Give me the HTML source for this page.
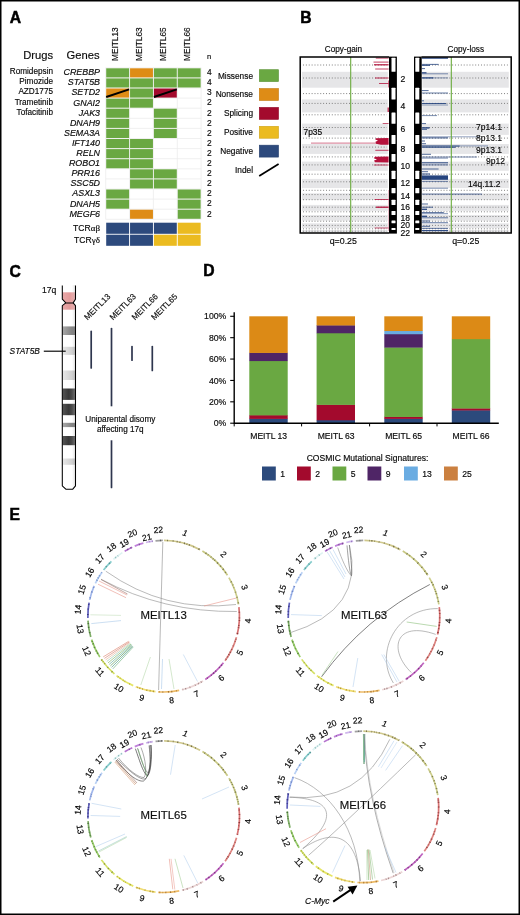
<!DOCTYPE html>
<html lang="en"><head><meta charset="utf-8"><title>Figure</title>
<style>
html,body{margin:0;padding:0;background:#fff;}
body{width:520px;height:915px;overflow:hidden;position:relative;font-family:"Liberation Sans",sans-serif;}
svg{position:absolute;left:0;top:0;display:block}
svg text{font-family:"Liberation Sans",sans-serif;stroke:#000;stroke-width:0.16px;}
</style></head><body>
<svg width="520" height="915" viewBox="0 0 520 915">
<text x="9.7" y="22.6" font-size="15.7" font-weight="bold" fill="#000" style="stroke-width:0.5px">A</text>
<text x="300.2" y="22.7" font-size="15.7" font-weight="bold" fill="#000" style="stroke-width:0.5px">B</text>
<text x="9.4" y="276.6" font-size="15.7" font-weight="bold" fill="#000" style="stroke-width:0.5px">C</text>
<text x="203.3" y="276.3" font-size="15.7" font-weight="bold" fill="#000" style="stroke-width:0.5px">D</text>
<text x="9.4" y="520.0" font-size="15.7" font-weight="bold" fill="#000" style="stroke-width:0.5px">E</text>
<text x="38.20" y="59.00" font-size="11.2" text-anchor="middle" fill="#0d0d0d" >Drugs</text>
<text x="83.00" y="59.00" font-size="11.2" text-anchor="middle" fill="#0d0d0d" >Genes</text>
<g stroke="#ececec" stroke-width="0.8">
<line x1="105.7" y1="67.80" x2="201.10" y2="67.80"/>
<line x1="105.7" y1="77.90" x2="201.10" y2="77.90"/>
<line x1="105.7" y1="88.00" x2="201.10" y2="88.00"/>
<line x1="105.7" y1="98.10" x2="201.10" y2="98.10"/>
<line x1="105.7" y1="108.20" x2="201.10" y2="108.20"/>
<line x1="105.7" y1="118.30" x2="201.10" y2="118.30"/>
<line x1="105.7" y1="128.40" x2="201.10" y2="128.40"/>
<line x1="105.7" y1="138.50" x2="201.10" y2="138.50"/>
<line x1="105.7" y1="148.60" x2="201.10" y2="148.60"/>
<line x1="105.7" y1="158.70" x2="201.10" y2="158.70"/>
<line x1="105.7" y1="168.80" x2="201.10" y2="168.80"/>
<line x1="105.7" y1="178.90" x2="201.10" y2="178.90"/>
<line x1="105.7" y1="189.00" x2="201.10" y2="189.00"/>
<line x1="105.7" y1="199.10" x2="201.10" y2="199.10"/>
<line x1="105.7" y1="209.20" x2="201.10" y2="209.20"/>
<line x1="105.7" y1="219.30" x2="201.10" y2="219.30"/>
<line x1="105.70" y1="67.8" x2="105.70" y2="219.30"/>
<line x1="129.55" y1="67.8" x2="129.55" y2="219.30"/>
<line x1="153.40" y1="67.8" x2="153.40" y2="219.30"/>
<line x1="177.25" y1="67.8" x2="177.25" y2="219.30"/>
<line x1="201.10" y1="67.8" x2="201.10" y2="219.30"/>
</g>
<rect x="106.20" y="68.30" width="22.9" height="9.1" fill="#6aa842"/>
<rect x="130.05" y="68.30" width="22.9" height="9.1" fill="#de8c16"/>
<rect x="153.90" y="68.30" width="22.9" height="9.1" fill="#6aa842"/>
<rect x="177.75" y="68.30" width="22.9" height="9.1" fill="#6aa842"/>
<text x="100.00" y="75.20" font-size="8.9" text-anchor="end" font-style="italic" fill="#0d0d0d" >CREBBP</text>
<text x="209.40" y="75.10" font-size="8.4" text-anchor="middle" fill="#0d0d0d" >4</text>
<text x="53.00" y="74.20" font-size="8.2" text-anchor="end" fill="#0d0d0d" >Romidepsin</text>
<rect x="106.20" y="78.40" width="22.9" height="9.1" fill="#6aa842"/>
<rect x="130.05" y="78.40" width="22.9" height="9.1" fill="#6aa842"/>
<rect x="153.90" y="78.40" width="22.9" height="9.1" fill="#6aa842"/>
<rect x="177.75" y="78.40" width="22.9" height="9.1" fill="#6aa842"/>
<text x="100.00" y="85.30" font-size="8.9" text-anchor="end" font-style="italic" fill="#0d0d0d" >STAT5B</text>
<text x="209.40" y="85.20" font-size="8.4" text-anchor="middle" fill="#0d0d0d" >4</text>
<text x="53.00" y="84.30" font-size="8.2" text-anchor="end" fill="#0d0d0d" >Pimozide</text>
<rect x="106.20" y="88.50" width="22.9" height="9.1" fill="#de8c16"/>
<rect x="130.05" y="88.50" width="22.9" height="9.1" fill="#6aa842"/>
<rect x="153.90" y="88.50" width="22.9" height="9.1" fill="#a30a2d"/>
<text x="100.00" y="95.40" font-size="8.9" text-anchor="end" font-style="italic" fill="#0d0d0d" >SETD2</text>
<text x="209.40" y="95.30" font-size="8.4" text-anchor="middle" fill="#0d0d0d" >3</text>
<text x="53.00" y="94.40" font-size="8.2" text-anchor="end" fill="#0d0d0d" >AZD1775</text>
<rect x="106.20" y="98.60" width="22.9" height="9.1" fill="#6aa842"/>
<rect x="130.05" y="98.60" width="22.9" height="9.1" fill="#6aa842"/>
<text x="100.00" y="105.50" font-size="8.9" text-anchor="end" font-style="italic" fill="#0d0d0d" >GNAI2</text>
<text x="209.40" y="105.40" font-size="8.4" text-anchor="middle" fill="#0d0d0d" >2</text>
<text x="53.00" y="104.50" font-size="8.2" text-anchor="end" fill="#0d0d0d" >Trametinib</text>
<rect x="106.20" y="108.70" width="22.9" height="9.1" fill="#6aa842"/>
<rect x="153.90" y="108.70" width="22.9" height="9.1" fill="#6aa842"/>
<text x="100.00" y="115.60" font-size="8.9" text-anchor="end" font-style="italic" fill="#0d0d0d" >JAK3</text>
<text x="209.40" y="115.50" font-size="8.4" text-anchor="middle" fill="#0d0d0d" >2</text>
<text x="53.00" y="114.60" font-size="8.2" text-anchor="end" fill="#0d0d0d" >Tofacitinib</text>
<rect x="106.20" y="118.80" width="22.9" height="9.1" fill="#6aa842"/>
<rect x="153.90" y="118.80" width="22.9" height="9.1" fill="#6aa842"/>
<text x="100.00" y="125.70" font-size="8.9" text-anchor="end" font-style="italic" fill="#0d0d0d" >DNAH9</text>
<text x="209.40" y="125.60" font-size="8.4" text-anchor="middle" fill="#0d0d0d" >2</text>
<rect x="106.20" y="128.90" width="22.9" height="9.1" fill="#6aa842"/>
<rect x="153.90" y="128.90" width="22.9" height="9.1" fill="#6aa842"/>
<text x="100.00" y="135.80" font-size="8.9" text-anchor="end" font-style="italic" fill="#0d0d0d" >SEMA3A</text>
<text x="209.40" y="135.70" font-size="8.4" text-anchor="middle" fill="#0d0d0d" >2</text>
<rect x="106.20" y="139.00" width="22.9" height="9.1" fill="#6aa842"/>
<rect x="130.05" y="139.00" width="22.9" height="9.1" fill="#6aa842"/>
<text x="100.00" y="145.90" font-size="8.9" text-anchor="end" font-style="italic" fill="#0d0d0d" >IFT140</text>
<text x="209.40" y="145.80" font-size="8.4" text-anchor="middle" fill="#0d0d0d" >2</text>
<rect x="106.20" y="149.10" width="22.9" height="9.1" fill="#6aa842"/>
<rect x="130.05" y="149.10" width="22.9" height="9.1" fill="#6aa842"/>
<text x="100.00" y="156.00" font-size="8.9" text-anchor="end" font-style="italic" fill="#0d0d0d" >RELN</text>
<text x="209.40" y="155.90" font-size="8.4" text-anchor="middle" fill="#0d0d0d" >2</text>
<rect x="106.20" y="159.20" width="22.9" height="9.1" fill="#6aa842"/>
<rect x="130.05" y="159.20" width="22.9" height="9.1" fill="#6aa842"/>
<text x="100.00" y="166.10" font-size="8.9" text-anchor="end" font-style="italic" fill="#0d0d0d" >ROBO1</text>
<text x="209.40" y="166.00" font-size="8.4" text-anchor="middle" fill="#0d0d0d" >2</text>
<rect x="130.05" y="169.30" width="22.9" height="9.1" fill="#6aa842"/>
<rect x="153.90" y="169.30" width="22.9" height="9.1" fill="#6aa842"/>
<text x="100.00" y="176.20" font-size="8.9" text-anchor="end" font-style="italic" fill="#0d0d0d" >PRR16</text>
<text x="209.40" y="176.10" font-size="8.4" text-anchor="middle" fill="#0d0d0d" >2</text>
<rect x="130.05" y="179.40" width="22.9" height="9.1" fill="#6aa842"/>
<rect x="153.90" y="179.40" width="22.9" height="9.1" fill="#6aa842"/>
<text x="100.00" y="186.30" font-size="8.9" text-anchor="end" font-style="italic" fill="#0d0d0d" >SSC5D</text>
<text x="209.40" y="186.20" font-size="8.4" text-anchor="middle" fill="#0d0d0d" >2</text>
<rect x="106.20" y="189.50" width="22.9" height="9.1" fill="#6aa842"/>
<rect x="177.75" y="189.50" width="22.9" height="9.1" fill="#6aa842"/>
<text x="100.00" y="196.40" font-size="8.9" text-anchor="end" font-style="italic" fill="#0d0d0d" >ASXL3</text>
<text x="209.40" y="196.30" font-size="8.4" text-anchor="middle" fill="#0d0d0d" >2</text>
<rect x="106.20" y="199.60" width="22.9" height="9.1" fill="#6aa842"/>
<rect x="177.75" y="199.60" width="22.9" height="9.1" fill="#6aa842"/>
<text x="100.00" y="206.50" font-size="8.9" text-anchor="end" font-style="italic" fill="#0d0d0d" >DNAH5</text>
<text x="209.40" y="206.40" font-size="8.4" text-anchor="middle" fill="#0d0d0d" >2</text>
<rect x="130.05" y="209.70" width="22.9" height="9.1" fill="#de8c16"/>
<rect x="177.75" y="209.70" width="22.9" height="9.1" fill="#6aa842"/>
<text x="100.00" y="216.60" font-size="8.9" text-anchor="end" font-style="italic" fill="#0d0d0d" >MEGF6</text>
<text x="209.40" y="216.50" font-size="8.4" text-anchor="middle" fill="#0d0d0d" >2</text>
<line x1="106.20" y1="97.00" x2="129.10" y2="89.30" stroke="#000" stroke-width="1.9"/>
<line x1="153.90" y1="97.00" x2="176.80" y2="89.30" stroke="#000" stroke-width="1.9"/>
<text x="118.25" y="61.00" font-size="8.3" text-anchor="start" transform="rotate(-90 118.25 61.00)" fill="#0d0d0d" >MEITL13</text>
<text x="142.10" y="61.00" font-size="8.3" text-anchor="start" transform="rotate(-90 142.10 61.00)" fill="#0d0d0d" >MEITL63</text>
<text x="165.95" y="61.00" font-size="8.3" text-anchor="start" transform="rotate(-90 165.95 61.00)" fill="#0d0d0d" >MEITL65</text>
<text x="189.80" y="61.00" font-size="8.3" text-anchor="start" transform="rotate(-90 189.80 61.00)" fill="#0d0d0d" >MEITL66</text>
<text x="209.20" y="58.50" font-size="7.5" text-anchor="middle" fill="#0d0d0d" >n</text>
<rect x="106.20" y="222.70" width="22.9" height="11.1" fill="#2d4a7d"/>
<rect x="130.05" y="222.70" width="22.9" height="11.1" fill="#2d4a7d"/>
<rect x="153.90" y="222.70" width="22.9" height="11.1" fill="#2d4a7d"/>
<rect x="177.75" y="222.70" width="22.9" height="11.1" fill="#ebbb20"/>
<rect x="106.20" y="234.70" width="22.9" height="11.1" fill="#2d4a7d"/>
<rect x="130.05" y="234.70" width="22.9" height="11.1" fill="#2d4a7d"/>
<rect x="153.90" y="234.70" width="22.9" height="11.1" fill="#ebbb20"/>
<rect x="177.75" y="234.70" width="22.9" height="11.1" fill="#ebbb20"/>
<text x="100.00" y="230.80" font-size="8.6" text-anchor="end" fill="#0d0d0d" >TCR<tspan style="font-family:'Liberation Serif',serif" font-size="9">αβ</tspan></text>
<text x="100.00" y="242.50" font-size="8.6" text-anchor="end" fill="#0d0d0d" >TCR<tspan style="font-family:'Liberation Serif',serif" font-size="9">γδ</tspan></text>
<rect x="259.3" y="69.70" width="19.2" height="11.9" fill="#6aa842" stroke="#6aa842" stroke-width="0.6"/><rect x="259.3" y="69.70" width="19.2" height="11.9" fill="none" stroke="#000" stroke-opacity="0.12" stroke-width="0.6"/>
<text x="253.00" y="78.60" font-size="8.3" text-anchor="end" fill="#0d0d0d" >Missense</text>
<rect x="259.3" y="88.57" width="19.2" height="11.9" fill="#de8c16" stroke="#de8c16" stroke-width="0.6"/><rect x="259.3" y="88.57" width="19.2" height="11.9" fill="none" stroke="#000" stroke-opacity="0.12" stroke-width="0.6"/>
<text x="253.00" y="97.47" font-size="8.3" text-anchor="end" fill="#0d0d0d" >Nonsense</text>
<rect x="259.3" y="107.44" width="19.2" height="11.9" fill="#a30a2d" stroke="#a30a2d" stroke-width="0.6"/><rect x="259.3" y="107.44" width="19.2" height="11.9" fill="none" stroke="#000" stroke-opacity="0.12" stroke-width="0.6"/>
<text x="253.00" y="116.34" font-size="8.3" text-anchor="end" fill="#0d0d0d" >Splicing</text>
<rect x="259.3" y="126.31" width="19.2" height="11.9" fill="#ebbb20" stroke="#ebbb20" stroke-width="0.6"/><rect x="259.3" y="126.31" width="19.2" height="11.9" fill="none" stroke="#000" stroke-opacity="0.12" stroke-width="0.6"/>
<text x="253.00" y="135.21" font-size="8.3" text-anchor="end" fill="#0d0d0d" >Positive</text>
<rect x="259.3" y="145.18" width="19.2" height="11.9" fill="#2d4a7d" stroke="#2d4a7d" stroke-width="0.6"/><rect x="259.3" y="145.18" width="19.2" height="11.9" fill="none" stroke="#000" stroke-opacity="0.12" stroke-width="0.6"/>
<text x="253.00" y="154.08" font-size="8.3" text-anchor="end" fill="#0d0d0d" >Negative</text>
<text x="253.00" y="173.00" font-size="8.3" text-anchor="end" fill="#0d0d0d" >Indel</text>
<line x1="259.2" y1="176" x2="278.6" y2="164" stroke="#000" stroke-width="1.7"/>
<rect x="302" y="71.80" width="85.80" height="15.90" fill="#e6e6e8"/>
<rect x="302" y="99.40" width="85.80" height="13.00" fill="#e6e6e8"/>
<rect x="302" y="123.60" width="85.80" height="11.30" fill="#e6e6e8"/>
<rect x="302" y="144.00" width="85.80" height="9.90" fill="#e6e6e8"/>
<rect x="302" y="161.60" width="85.80" height="9.20" fill="#e6e6e8"/>
<rect x="302" y="178.90" width="85.80" height="9.20" fill="#e6e6e8"/>
<rect x="302" y="193.30" width="85.80" height="6.50" fill="#e6e6e8"/>
<rect x="302" y="204.90" width="85.80" height="6.00" fill="#e6e6e8"/>
<rect x="302" y="215.00" width="85.80" height="5.60" fill="#e6e6e8"/>
<rect x="302" y="223.30" width="85.80" height="4.70" fill="#e6e6e8"/>
<rect x="302" y="229.90" width="85.80" height="2.70" fill="#e6e6e8"/>
<line x1="303" y1="65.00" x2="386.8" y2="65.00" stroke="#7a7a7a" stroke-width="1" stroke-dasharray="0.95 1.93"/>
<line x1="303" y1="78.00" x2="386.8" y2="78.00" stroke="#7a7a7a" stroke-width="1" stroke-dasharray="0.95 1.93"/>
<line x1="303" y1="93.60" x2="386.8" y2="93.60" stroke="#7a7a7a" stroke-width="1" stroke-dasharray="0.95 1.93"/>
<line x1="303" y1="103.40" x2="386.8" y2="103.40" stroke="#7a7a7a" stroke-width="1" stroke-dasharray="0.95 1.93"/>
<line x1="303" y1="114.80" x2="386.8" y2="114.80" stroke="#7a7a7a" stroke-width="1" stroke-dasharray="0.95 1.93"/>
<line x1="303" y1="127.50" x2="386.8" y2="127.50" stroke="#7a7a7a" stroke-width="1" stroke-dasharray="0.95 1.93"/>
<line x1="303" y1="138.10" x2="386.8" y2="138.10" stroke="#7a7a7a" stroke-width="1" stroke-dasharray="0.95 1.93"/>
<line x1="303" y1="147.10" x2="386.8" y2="147.10" stroke="#7a7a7a" stroke-width="1" stroke-dasharray="0.95 1.93"/>
<line x1="303" y1="156.90" x2="386.8" y2="156.90" stroke="#7a7a7a" stroke-width="1" stroke-dasharray="0.95 1.93"/>
<line x1="303" y1="164.90" x2="386.8" y2="164.90" stroke="#7a7a7a" stroke-width="1" stroke-dasharray="0.95 1.93"/>
<line x1="303" y1="174.20" x2="386.8" y2="174.20" stroke="#7a7a7a" stroke-width="1" stroke-dasharray="0.95 1.93"/>
<line x1="303" y1="181.80" x2="386.8" y2="181.80" stroke="#7a7a7a" stroke-width="1" stroke-dasharray="0.95 1.93"/>
<line x1="303" y1="190.30" x2="386.8" y2="190.30" stroke="#7a7a7a" stroke-width="1" stroke-dasharray="0.95 1.93"/>
<line x1="303" y1="194.60" x2="386.8" y2="194.60" stroke="#7a7a7a" stroke-width="1" stroke-dasharray="0.95 1.93"/>
<line x1="303" y1="199.70" x2="386.8" y2="199.70" stroke="#7a7a7a" stroke-width="1" stroke-dasharray="0.95 1.93"/>
<line x1="303" y1="207.20" x2="386.8" y2="207.20" stroke="#7a7a7a" stroke-width="1" stroke-dasharray="0.95 1.93"/>
<line x1="303" y1="211.80" x2="386.8" y2="211.80" stroke="#7a7a7a" stroke-width="1" stroke-dasharray="0.95 1.93"/>
<line x1="303" y1="216.50" x2="386.8" y2="216.50" stroke="#7a7a7a" stroke-width="1" stroke-dasharray="0.95 1.93"/>
<line x1="303" y1="221.20" x2="386.8" y2="221.20" stroke="#7a7a7a" stroke-width="1" stroke-dasharray="0.95 1.93"/>
<line x1="303" y1="225.40" x2="386.8" y2="225.40" stroke="#7a7a7a" stroke-width="1" stroke-dasharray="0.95 1.93"/>
<line x1="303" y1="228.80" x2="386.8" y2="228.80" stroke="#7a7a7a" stroke-width="1" stroke-dasharray="0.95 1.93"/>
<line x1="303" y1="231.20" x2="386.8" y2="231.20" stroke="#7a7a7a" stroke-width="1" stroke-dasharray="0.95 1.93"/>
<rect x="422.4" y="71.80" width="86.40" height="15.90" fill="#e6e6e8"/>
<rect x="422.4" y="99.40" width="86.40" height="13.00" fill="#e6e6e8"/>
<rect x="422.4" y="123.60" width="86.40" height="11.30" fill="#e6e6e8"/>
<rect x="422.4" y="144.00" width="86.40" height="9.90" fill="#e6e6e8"/>
<rect x="422.4" y="161.60" width="86.40" height="9.20" fill="#e6e6e8"/>
<rect x="422.4" y="178.90" width="86.40" height="9.20" fill="#e6e6e8"/>
<rect x="422.4" y="193.30" width="86.40" height="6.50" fill="#e6e6e8"/>
<rect x="422.4" y="204.90" width="86.40" height="6.00" fill="#e6e6e8"/>
<rect x="422.4" y="215.00" width="86.40" height="5.60" fill="#e6e6e8"/>
<rect x="422.4" y="223.30" width="86.40" height="4.70" fill="#e6e6e8"/>
<rect x="422.4" y="229.90" width="86.40" height="2.70" fill="#e6e6e8"/>
<line x1="423.4" y1="65.00" x2="507.8" y2="65.00" stroke="#7a7a7a" stroke-width="1" stroke-dasharray="0.95 1.93"/>
<line x1="423.4" y1="78.00" x2="507.8" y2="78.00" stroke="#7a7a7a" stroke-width="1" stroke-dasharray="0.95 1.93"/>
<line x1="423.4" y1="93.60" x2="507.8" y2="93.60" stroke="#7a7a7a" stroke-width="1" stroke-dasharray="0.95 1.93"/>
<line x1="423.4" y1="103.40" x2="507.8" y2="103.40" stroke="#7a7a7a" stroke-width="1" stroke-dasharray="0.95 1.93"/>
<line x1="423.4" y1="114.80" x2="507.8" y2="114.80" stroke="#7a7a7a" stroke-width="1" stroke-dasharray="0.95 1.93"/>
<line x1="423.4" y1="127.50" x2="507.8" y2="127.50" stroke="#7a7a7a" stroke-width="1" stroke-dasharray="0.95 1.93"/>
<line x1="423.4" y1="138.10" x2="507.8" y2="138.10" stroke="#7a7a7a" stroke-width="1" stroke-dasharray="0.95 1.93"/>
<line x1="423.4" y1="147.10" x2="507.8" y2="147.10" stroke="#7a7a7a" stroke-width="1" stroke-dasharray="0.95 1.93"/>
<line x1="423.4" y1="156.90" x2="507.8" y2="156.90" stroke="#7a7a7a" stroke-width="1" stroke-dasharray="0.95 1.93"/>
<line x1="423.4" y1="164.90" x2="507.8" y2="164.90" stroke="#7a7a7a" stroke-width="1" stroke-dasharray="0.95 1.93"/>
<line x1="423.4" y1="174.20" x2="507.8" y2="174.20" stroke="#7a7a7a" stroke-width="1" stroke-dasharray="0.95 1.93"/>
<line x1="423.4" y1="181.80" x2="507.8" y2="181.80" stroke="#7a7a7a" stroke-width="1" stroke-dasharray="0.95 1.93"/>
<line x1="423.4" y1="190.30" x2="507.8" y2="190.30" stroke="#7a7a7a" stroke-width="1" stroke-dasharray="0.95 1.93"/>
<line x1="423.4" y1="194.60" x2="507.8" y2="194.60" stroke="#7a7a7a" stroke-width="1" stroke-dasharray="0.95 1.93"/>
<line x1="423.4" y1="199.70" x2="507.8" y2="199.70" stroke="#7a7a7a" stroke-width="1" stroke-dasharray="0.95 1.93"/>
<line x1="423.4" y1="207.20" x2="507.8" y2="207.20" stroke="#7a7a7a" stroke-width="1" stroke-dasharray="0.95 1.93"/>
<line x1="423.4" y1="211.80" x2="507.8" y2="211.80" stroke="#7a7a7a" stroke-width="1" stroke-dasharray="0.95 1.93"/>
<line x1="423.4" y1="216.50" x2="507.8" y2="216.50" stroke="#7a7a7a" stroke-width="1" stroke-dasharray="0.95 1.93"/>
<line x1="423.4" y1="221.20" x2="507.8" y2="221.20" stroke="#7a7a7a" stroke-width="1" stroke-dasharray="0.95 1.93"/>
<line x1="423.4" y1="225.40" x2="507.8" y2="225.40" stroke="#7a7a7a" stroke-width="1" stroke-dasharray="0.95 1.93"/>
<line x1="423.4" y1="228.80" x2="507.8" y2="228.80" stroke="#7a7a7a" stroke-width="1" stroke-dasharray="0.95 1.93"/>
<line x1="423.4" y1="231.20" x2="507.8" y2="231.20" stroke="#7a7a7a" stroke-width="1" stroke-dasharray="0.95 1.93"/>
<line x1="375.8" y1="58.1" x2="388.6" y2="58.1" stroke="#b5123c" stroke-width="0.8"/>
<line x1="373.5" y1="62.1" x2="388.6" y2="62.1" stroke="#b5123c" stroke-width="0.8"/>
<line x1="374" y1="64.8" x2="388.6" y2="64.8" stroke="#b5123c" stroke-width="1.2"/>
<line x1="375.2" y1="69" x2="388.6" y2="69" stroke="#b5123c" stroke-width="0.8"/>
<line x1="375" y1="78" x2="388.6" y2="78" stroke="#b5123c" stroke-width="0.9"/>
<line x1="379" y1="83.5" x2="388.6" y2="83.5" stroke="#b5123c" stroke-width="0.8"/>
<line x1="382.7" y1="123.5" x2="388.6" y2="123.5" stroke="#b5123c" stroke-width="0.7"/>
<line x1="375.3" y1="150.3" x2="388.6" y2="150.3" stroke="#b5123c" stroke-width="0.8"/>
<line x1="373.8" y1="165" x2="388.6" y2="165" stroke="#b5123c" stroke-width="0.8"/>
<line x1="374.6" y1="199.5" x2="388.6" y2="199.5" stroke="#b5123c" stroke-width="0.8"/>
<line x1="376" y1="207.2" x2="388.6" y2="207.2" stroke="#b5123c" stroke-width="1.3"/>
<line x1="374.6" y1="228" x2="388.6" y2="228" stroke="#b5123c" stroke-width="0.7"/>
<line x1="311" y1="143.1" x2="388.6" y2="143.1" stroke="#b5123c" stroke-width="0.7" opacity="0.85"/>
<path d="M388.6 138 L376 138.3 L375.2 139.5 L378 140.6 L375.5 141.8 L376 143.8 L381 144.8 L388.6 144.8 Z" fill="#b5123c"/>
<path d="M388.6 156.4 L375 156.8 L373.8 158.3 L377 159.4 L374 160.6 L375 162.3 L388.6 162.5 Z" fill="#b5123c"/>
<line x1="388.5" y1="80.5" x2="388.5" y2="87.5" stroke="#b5123c" stroke-width="0.6"/>
<line x1="388.2" y1="107.5" x2="388.2" y2="112" stroke="#b5123c" stroke-width="1.2"/>
<line x1="388.5" y1="190" x2="388.5" y2="231" stroke="#b5123c" stroke-width="0.5" opacity="0.55"/>
<line x1="421.8" y1="58" x2="448" y2="58" stroke="#27457f" stroke-width="1.5"/>
<line x1="421.8" y1="64.4" x2="438.6" y2="64.4" stroke="#27457f" stroke-width="0.8"/>
<line x1="421.8" y1="65.5" x2="430" y2="65.5" stroke="#27457f" stroke-width="0.8"/>
<line x1="421.8" y1="68.6" x2="425" y2="68.6" stroke="#27457f" stroke-width="0.8"/>
<line x1="421.8" y1="72.8" x2="426.5" y2="72.8" stroke="#27457f" stroke-width="1.2"/>
<line x1="421.8" y1="73.8" x2="448" y2="73.8" stroke="#27457f" stroke-width="0.6"/>
<line x1="421.8" y1="77.9" x2="433.3" y2="77.9" stroke="#27457f" stroke-width="1.1"/>
<line x1="421.8" y1="77.9" x2="448" y2="77.9" stroke="#27457f" stroke-width="0.5"/>
<line x1="421.8" y1="90.6" x2="428.6" y2="90.6" stroke="#27457f" stroke-width="0.8"/>
<line x1="421.8" y1="93" x2="448" y2="93" stroke="#27457f" stroke-width="0.7"/>
<line x1="421.8" y1="100.8" x2="424" y2="100.8" stroke="#27457f" stroke-width="0.8"/>
<line x1="421.8" y1="103.5" x2="446" y2="103.5" stroke="#27457f" stroke-width="0.9"/>
<line x1="421.8" y1="105" x2="448" y2="105" stroke="#27457f" stroke-width="0.5"/>
<line x1="421.8" y1="115.6" x2="437" y2="115.6" stroke="#27457f" stroke-width="0.6"/>
<line x1="421.8" y1="123.6" x2="426" y2="123.6" stroke="#27457f" stroke-width="0.8"/>
<line x1="421.8" y1="127.9" x2="429.5" y2="127.9" stroke="#27457f" stroke-width="1.4"/>
<line x1="421.8" y1="129.4" x2="427" y2="129.4" stroke="#27457f" stroke-width="0.8"/>
<line x1="421.8" y1="136.8" x2="480" y2="136.8" stroke="#27457f" stroke-width="0.5"/>
<line x1="421.8" y1="137.9" x2="448" y2="137.9" stroke="#27457f" stroke-width="0.9"/>
<line x1="421.8" y1="141" x2="425" y2="141" stroke="#27457f" stroke-width="0.8"/>
<line x1="421.8" y1="143.7" x2="426" y2="143.7" stroke="#27457f" stroke-width="0.8"/>
<line x1="421.8" y1="145.9" x2="488" y2="145.9" stroke="#27457f" stroke-width="0.5"/>
<line x1="421.8" y1="146.1" x2="459.7" y2="146.1" stroke="#27457f" stroke-width="0.9"/>
<line x1="421.8" y1="147.4" x2="455.5" y2="147.4" stroke="#27457f" stroke-width="0.8"/>
<line x1="421.8" y1="154.3" x2="431" y2="154.3" stroke="#27457f" stroke-width="0.8"/>
<line x1="421.8" y1="157" x2="477" y2="157" stroke="#27457f" stroke-width="0.6"/>
<line x1="421.8" y1="158.1" x2="448" y2="158.1" stroke="#27457f" stroke-width="0.6"/>
<line x1="421.8" y1="162.8" x2="448" y2="162.8" stroke="#27457f" stroke-width="1.0"/>
<line x1="421.8" y1="164.9" x2="448" y2="164.9" stroke="#27457f" stroke-width="0.7"/>
<line x1="421.8" y1="169" x2="438.6" y2="169" stroke="#27457f" stroke-width="0.8"/>
<line x1="421.8" y1="171.7" x2="428" y2="171.7" stroke="#27457f" stroke-width="0.8"/>
<line x1="421.8" y1="174" x2="430" y2="174" stroke="#27457f" stroke-width="1.0"/>
<line x1="421.8" y1="181.4" x2="448" y2="181.4" stroke="#27457f" stroke-width="0.6"/>
<line x1="421.8" y1="188.2" x2="448" y2="188.2" stroke="#27457f" stroke-width="0.6"/>
<line x1="421.8" y1="194.1" x2="482" y2="194.1" stroke="#27457f" stroke-width="0.7"/>
<line x1="421.8" y1="204" x2="428" y2="204" stroke="#27457f" stroke-width="0.8"/>
<line x1="421.8" y1="207.2" x2="433" y2="207.2" stroke="#27457f" stroke-width="0.8"/>
<line x1="421.8" y1="209.3" x2="427" y2="209.3" stroke="#27457f" stroke-width="1.3"/>
<line x1="421.8" y1="212.5" x2="443.8" y2="212.5" stroke="#27457f" stroke-width="0.7"/>
<line x1="421.8" y1="213.7" x2="448" y2="213.7" stroke="#27457f" stroke-width="0.6"/>
<line x1="421.8" y1="216.3" x2="427" y2="216.3" stroke="#27457f" stroke-width="1.3"/>
<line x1="421.8" y1="217.8" x2="448" y2="217.8" stroke="#27457f" stroke-width="0.7"/>
<line x1="421.8" y1="221" x2="430" y2="221" stroke="#27457f" stroke-width="0.8"/>
<line x1="421.8" y1="222.7" x2="448" y2="222.7" stroke="#27457f" stroke-width="0.7"/>
<line x1="421.8" y1="226.3" x2="430" y2="226.3" stroke="#27457f" stroke-width="0.8"/>
<line x1="421.8" y1="228.4" x2="448" y2="228.4" stroke="#27457f" stroke-width="0.7"/>
<line x1="421.8" y1="230.6" x2="448" y2="230.6" stroke="#27457f" stroke-width="1.1"/>
<rect x="421.8" y="175.4" width="26.20" height="4.4" fill="#27457f"/>
<line x1="350.7" y1="57" x2="350.7" y2="232.5" stroke="#6aaa3c" stroke-width="1.1"/>
<line x1="451.3" y1="57" x2="451.3" y2="232.5" stroke="#6aaa3c" stroke-width="1.1"/>
<rect x="389.0" y="56.6" width="7.90" height="177.0" fill="#000"/>
<rect x="391.50" y="57.70" width="4.00" height="14.15" rx="0.5" fill="#fff"/>
<rect x="391.50" y="87.70" width="4.00" height="11.75" rx="0.5" fill="#fff"/>
<rect x="391.50" y="112.40" width="4.00" height="11.25" rx="0.5" fill="#fff"/>
<rect x="391.50" y="134.90" width="4.00" height="9.15" rx="0.5" fill="#fff"/>
<rect x="391.50" y="153.90" width="4.00" height="7.75" rx="0.5" fill="#fff"/>
<rect x="391.50" y="170.80" width="4.00" height="8.15" rx="0.5" fill="#fff"/>
<rect x="391.50" y="188.10" width="4.00" height="5.25" rx="0.5" fill="#fff"/>
<rect x="391.50" y="199.80" width="4.00" height="5.15" rx="0.5" fill="#fff"/>
<rect x="391.50" y="210.90" width="4.00" height="4.15" rx="0.5" fill="#fff"/>
<rect x="391.50" y="220.60" width="4.00" height="2.75" rx="0.5" fill="#fff"/>
<rect x="391.50" y="228.00" width="4.00" height="1.95" rx="0.5" fill="#fff"/>
<rect x="414.0" y="56.6" width="7.70" height="177.0" fill="#000"/>
<rect x="415.30" y="57.70" width="4.00" height="14.15" rx="0.5" fill="#fff"/>
<rect x="415.30" y="87.70" width="4.00" height="11.75" rx="0.5" fill="#fff"/>
<rect x="415.30" y="112.40" width="4.00" height="11.25" rx="0.5" fill="#fff"/>
<rect x="415.30" y="134.90" width="4.00" height="9.15" rx="0.5" fill="#fff"/>
<rect x="415.30" y="153.90" width="4.00" height="7.75" rx="0.5" fill="#fff"/>
<rect x="415.30" y="170.80" width="4.00" height="8.15" rx="0.5" fill="#fff"/>
<rect x="415.30" y="188.10" width="4.00" height="5.25" rx="0.5" fill="#fff"/>
<rect x="415.30" y="199.80" width="4.00" height="5.15" rx="0.5" fill="#fff"/>
<rect x="415.30" y="210.90" width="4.00" height="4.15" rx="0.5" fill="#fff"/>
<rect x="415.30" y="220.60" width="4.00" height="2.75" rx="0.5" fill="#fff"/>
<rect x="415.30" y="228.00" width="4.00" height="1.95" rx="0.5" fill="#fff"/>
<path d="M389 56.9 H300.2 V232.9 H389" fill="none" stroke="#000" stroke-width="1.5"/>
<path d="M421.5 56.9 H511.2 V232.9 H421.5" fill="none" stroke="#000" stroke-width="1.5"/>
<text x="400.50" y="82.35" font-size="8.6" text-anchor="start" fill="#0d0d0d" >2</text>
<text x="400.50" y="108.85" font-size="8.6" text-anchor="start" fill="#0d0d0d" >4</text>
<text x="400.50" y="131.75" font-size="8.6" text-anchor="start" fill="#0d0d0d" >6</text>
<text x="400.50" y="151.85" font-size="8.6" text-anchor="start" fill="#0d0d0d" >8</text>
<text x="400.50" y="169.05" font-size="8.6" text-anchor="start" fill="#0d0d0d" >10</text>
<text x="400.50" y="186.35" font-size="8.6" text-anchor="start" fill="#0d0d0d" >12</text>
<text x="400.50" y="199.35" font-size="8.6" text-anchor="start" fill="#0d0d0d" >14</text>
<text x="400.50" y="210.35" font-size="8.6" text-anchor="start" fill="#0d0d0d" >16</text>
<text x="400.50" y="220.55" font-size="8.6" text-anchor="start" fill="#0d0d0d" >18</text>
<text x="400.50" y="228.45" font-size="8.6" text-anchor="start" fill="#0d0d0d" >20</text>
<text x="400.50" y="236.15" font-size="8.6" text-anchor="start" fill="#0d0d0d" >22</text>
<text x="343.50" y="52.00" font-size="8.2" text-anchor="middle" fill="#0d0d0d" >Copy-gain</text>
<text x="465.80" y="52.00" font-size="8.2" text-anchor="middle" fill="#0d0d0d" >Copy-loss</text>
<text x="343.30" y="244.10" font-size="8.8" text-anchor="middle" fill="#0d0d0d" >q=0.25</text>
<text x="465.80" y="244.10" font-size="8.8" text-anchor="middle" fill="#0d0d0d" >q=0.25</text>
<text x="303.50" y="134.50" font-size="8.4" text-anchor="start" fill="#0d0d0d" >7p35</text>
<text x="502.00" y="129.70" font-size="8.5" text-anchor="end" fill="#0d0d0d" >7p14.1</text>
<text x="502.00" y="141.40" font-size="8.5" text-anchor="end" fill="#0d0d0d" >8p13.1</text>
<text x="502.00" y="152.60" font-size="8.5" text-anchor="end" fill="#0d0d0d" >9p13.1</text>
<text x="505.00" y="164.00" font-size="8.5" text-anchor="end" fill="#0d0d0d" >9p12</text>
<text x="500.50" y="187.00" font-size="8.5" text-anchor="end" fill="#0d0d0d" >14q.11.2</text>
<defs>
<linearGradient id="sheen" x1="0" x2="1" y1="0" y2="0"><stop offset="0" stop-color="#999" stop-opacity="0"/><stop offset="1" stop-color="#999" stop-opacity="0.28"/></linearGradient>
<linearGradient id="bd" x1="0" x2="1" y1="0" y2="0"><stop offset="0" stop-color="#585858"/><stop offset="0.45" stop-color="#383838"/><stop offset="1" stop-color="#6a6a6a"/></linearGradient>
<linearGradient id="bm" x1="0" x2="1" y1="0" y2="0"><stop offset="0" stop-color="#ababab"/><stop offset="0.5" stop-color="#8c8c8c"/><stop offset="1" stop-color="#767676"/></linearGradient>
<linearGradient id="bl" x1="0" x2="1" y1="0" y2="0"><stop offset="0" stop-color="#e9e9e9"/><stop offset="0.5" stop-color="#d6d6d6"/><stop offset="1" stop-color="#c6c6c6"/></linearGradient>
<linearGradient id="pk" x1="0" x2="1" y1="0" y2="0"><stop offset="0" stop-color="#e8a8a8"/><stop offset="0.5" stop-color="#e39a9a"/><stop offset="1" stop-color="#efbcbc"/></linearGradient>
<clipPath id="chrc"><path d="M62.3 285 V299.2 L65.8 302.9 L62.3 305.6 V485.8 L65.8 489.2 H72.8 L75.5 485.8 V305.6 L73.1 302.9 L75.5 299.2 V285 Z"/></clipPath>
</defs>
<g clip-path="url(#chrc)">
<rect x="62" y="285" width="15" height="206" fill="#fff"/>
<rect x="62" y="292.3" width="15" height="17.4" fill="url(#pk)"/>
<rect x="62" y="326.4" width="15" height="8.60" fill="url(#bm)"/>
<rect x="62" y="346.8" width="15" height="8.10" fill="url(#bl)"/>
<rect x="62" y="370.5" width="15" height="9.50" fill="url(#bl)"/>
<rect x="62" y="388.5" width="15" height="11.40" fill="url(#bd)"/>
<rect x="62" y="403.8" width="15" height="11.40" fill="url(#bd)"/>
<rect x="62" y="422.8" width="15" height="4.30" fill="url(#bm)"/>
<rect x="62" y="436" width="15" height="9.20" fill="url(#bd)"/>
<rect x="62" y="458.5" width="15" height="6.30" fill="url(#bl)"/>
</g>
<rect x="72" y="285" width="3.5" height="205" fill="url(#sheen)" clip-path="url(#chrc)"/>
<path d="M62.3 285.4 V299.2 L65.8 302.9 H73.1 L75.5 299.2 V285.4" fill="none" stroke="#000" stroke-width="1.05" stroke-linejoin="round"/>
<path d="M65.8 302.9 L62.3 305.6 V485.8 L65.8 489.2 H72.8 L75.5 485.8 V305.6 L73.1 302.9" fill="none" stroke="#000" stroke-width="1.05" stroke-linejoin="round"/>
<text x="41.90" y="292.80" font-size="8.6" text-anchor="start" fill="#111" >17q</text>
<text x="9.60" y="353.80" font-size="8.35" text-anchor="start" font-style="italic" fill="#0d0d0d" >STAT5B</text>
<line x1="43.8" y1="351.2" x2="65.7" y2="351.2" stroke="#000" stroke-width="1.15"/>
<line x1="91.2" y1="331.4" x2="91.2" y2="367.9" stroke="#2e364e" stroke-width="1.7" stroke-linecap="round"/>
<line x1="111.5" y1="328.6" x2="111.5" y2="487.4" stroke="#2e364e" stroke-width="1.7" stroke-linecap="round"/>
<line x1="132" y1="346.6" x2="132" y2="360.2" stroke="#2e364e" stroke-width="1.7" stroke-linecap="round"/>
<line x1="152.3" y1="346.6" x2="152.3" y2="370.5" stroke="#2e364e" stroke-width="1.7" stroke-linecap="round"/>
<rect x="84" y="406.3" width="74" height="34" fill="#fff"/>
<text x="120.30" y="422.00" font-size="8.2" text-anchor="middle" fill="#0d0d0d" >Uniparental disomy</text>
<text x="120.30" y="432.30" font-size="8.2" text-anchor="middle" fill="#0d0d0d" >affecting 17q</text>
<text x="87.50" y="320.50" font-size="8.2" text-anchor="start" transform="rotate(-45 87.50 320.50)" fill="#0d0d0d" >MEITL13</text>
<text x="113.00" y="320.50" font-size="8.2" text-anchor="start" transform="rotate(-45 113.00 320.50)" fill="#0d0d0d" >MEITL63</text>
<text x="135.00" y="320.50" font-size="8.2" text-anchor="start" transform="rotate(-45 135.00 320.50)" fill="#0d0d0d" >MEITL66</text>
<text x="154.50" y="320.50" font-size="8.2" text-anchor="start" transform="rotate(-45 154.50 320.50)" fill="#0d0d0d" >MEITL65</text>
<rect x="249.3" y="418.60" width="38.4" height="4.90" fill="#2c4a7c"/>
<rect x="249.3" y="415.08" width="38.4" height="3.83" fill="#a30a2d"/>
<rect x="249.3" y="360.77" width="38.4" height="54.61" fill="#6aa842"/>
<rect x="249.3" y="352.65" width="38.4" height="8.42" fill="#4f2566"/>
<rect x="249.3" y="316.30" width="38.4" height="36.65" fill="#dc8a16"/>
<rect x="316.6" y="419.99" width="38.4" height="3.51" fill="#2c4a7c"/>
<rect x="316.6" y="404.60" width="38.4" height="15.69" fill="#a30a2d"/>
<rect x="316.6" y="332.98" width="38.4" height="71.92" fill="#6aa842"/>
<rect x="316.6" y="325.17" width="38.4" height="8.10" fill="#4f2566"/>
<rect x="316.6" y="316.30" width="38.4" height="9.17" fill="#dc8a16"/>
<rect x="384.3" y="418.60" width="38.4" height="4.90" fill="#2c4a7c"/>
<rect x="384.3" y="416.68" width="38.4" height="2.22" fill="#a30a2d"/>
<rect x="384.3" y="347.30" width="38.4" height="69.68" fill="#6aa842"/>
<rect x="384.3" y="333.94" width="38.4" height="13.66" fill="#4f2566"/>
<rect x="384.3" y="330.73" width="38.4" height="3.51" fill="#6aace2"/>
<rect x="384.3" y="316.30" width="38.4" height="14.73" fill="#dc8a16"/>
<rect x="451.8" y="410.16" width="38.4" height="13.34" fill="#2c4a7c"/>
<rect x="451.8" y="408.23" width="38.4" height="2.22" fill="#a30a2d"/>
<rect x="451.8" y="338.86" width="38.4" height="69.68" fill="#6aa842"/>
<rect x="451.8" y="316.30" width="38.4" height="22.86" fill="#dc8a16"/>
<path d="M234.2 312.2 V423.2 H498.8" fill="none" stroke="#000" stroke-width="1.4"/>
<line x1="230.2" y1="423.20" x2="234.2" y2="423.20" stroke="#000" stroke-width="1.1"/>
<text x="226.30" y="426.30" font-size="8.7" text-anchor="end" fill="#0d0d0d" >0%</text>
<line x1="230.2" y1="401.82" x2="234.2" y2="401.82" stroke="#000" stroke-width="1.1"/>
<text x="226.30" y="404.92" font-size="8.7" text-anchor="end" fill="#0d0d0d" >20%</text>
<line x1="230.2" y1="380.44" x2="234.2" y2="380.44" stroke="#000" stroke-width="1.1"/>
<text x="226.30" y="383.54" font-size="8.7" text-anchor="end" fill="#0d0d0d" >40%</text>
<line x1="230.2" y1="359.06" x2="234.2" y2="359.06" stroke="#000" stroke-width="1.1"/>
<text x="226.30" y="362.16" font-size="8.7" text-anchor="end" fill="#0d0d0d" >60%</text>
<line x1="230.2" y1="337.68" x2="234.2" y2="337.68" stroke="#000" stroke-width="1.1"/>
<text x="226.30" y="340.78" font-size="8.7" text-anchor="end" fill="#0d0d0d" >80%</text>
<line x1="230.2" y1="316.30" x2="234.2" y2="316.30" stroke="#000" stroke-width="1.1"/>
<text x="226.30" y="319.40" font-size="8.7" text-anchor="end" fill="#0d0d0d" >100%</text>
<line x1="234.2" y1="423.2" x2="234.2" y2="426.4" stroke="#000" stroke-width="1"/>
<line x1="301.6" y1="423.2" x2="301.6" y2="426.4" stroke="#000" stroke-width="1"/>
<line x1="369.6" y1="423.2" x2="369.6" y2="426.4" stroke="#000" stroke-width="1"/>
<line x1="437" y1="423.2" x2="437" y2="426.4" stroke="#000" stroke-width="1"/>
<text x="268.70" y="438.80" font-size="8.6" text-anchor="middle" fill="#0d0d0d" >MEITL 13</text>
<text x="336.15" y="438.80" font-size="8.6" text-anchor="middle" fill="#0d0d0d" >MEITL 63</text>
<text x="403.60" y="438.80" font-size="8.6" text-anchor="middle" fill="#0d0d0d" >MEITL 65</text>
<text x="471.05" y="438.80" font-size="8.6" text-anchor="middle" fill="#0d0d0d" >MEITL 66</text>
<text x="367.50" y="461.20" font-size="8.55" text-anchor="middle" fill="#0d0d0d" >COSMIC Mutational Signatures:</text>
<rect x="262" y="466.5" width="13.8" height="14" fill="#2c4a7c"/>
<text x="280.30" y="476.80" font-size="8.6" text-anchor="start" fill="#0d0d0d" >1</text>
<rect x="297" y="466.5" width="13.8" height="14" fill="#a30a2d"/>
<text x="315.30" y="476.80" font-size="8.6" text-anchor="start" fill="#0d0d0d" >2</text>
<rect x="332.5" y="466.5" width="13.8" height="14" fill="#6aa842"/>
<text x="350.80" y="476.80" font-size="8.6" text-anchor="start" fill="#0d0d0d" >5</text>
<rect x="367.5" y="466.5" width="13.8" height="14" fill="#4f2566"/>
<text x="385.80" y="476.80" font-size="8.6" text-anchor="start" fill="#0d0d0d" >9</text>
<rect x="404" y="466.5" width="13.8" height="14" fill="#6aace2"/>
<text x="422.30" y="476.80" font-size="8.6" text-anchor="start" fill="#0d0d0d" >13</text>
<rect x="444" y="466.5" width="13.8" height="14" fill="#cb8040"/>
<text x="462.30" y="476.80" font-size="8.6" text-anchor="start" fill="#0d0d0d" >25</text>
<g fill="none">
<path d="M162.8 542.0 L158.6 690.0" stroke="#8a8a8a" stroke-width="0.6" opacity="1.0"/>
<path d="M105.8 571.2 Q165 613 236 604.5" stroke="#8c8c8c" stroke-width="0.6"/>
<path d="M101 579.2 Q163 612.5 236.8 611.5" stroke="#8c8c8c" stroke-width="0.6"/>
<path d="M99.0 581.0 L127.0 595.0" stroke="#e8958a" stroke-width="0.6" opacity="1.0"/>
<path d="M98.0 584.2 L126.0 597.7" stroke="#e8958a" stroke-width="0.6" opacity="1.0"/>
<path d="M101.0 579.5 L127.5 594.0" stroke="#8a5a50" stroke-width="0.5" opacity="1.0"/>
<path d="M90.4 614.8 L121.0 615.4" stroke="#a8d09a" stroke-width="0.5" opacity="0.8"/>
<path d="M91.3 623.6 L121.0 620.6" stroke="#a9c9ea" stroke-width="0.6" opacity="1.0"/>
<path d="M236.5 598.0 L204.0 606.0" stroke="#e8958a" stroke-width="0.6" opacity="1.0"/>
<path d="M140.8 685.0 L150.4 657.0" stroke="#a8d09a" stroke-width="0.5" opacity="1.0"/>
<path d="M161.5 689.0 L162.5 659.0" stroke="#a9c9ea" stroke-width="0.6" opacity="1.0"/>
<path d="M174.0 689.0 L169.0 659.0" stroke="#a8d09a" stroke-width="0.5" opacity="1.0"/>
<path d="M197.5 681.5 L183.3 654.5" stroke="#a9c9ea" stroke-width="0.5" opacity="1.0"/>
<path d="M103.2 656.9 L128.7 641.3" stroke="#e08f7c" stroke-width="0.7" opacity="1"/>
<path d="M104.4 658.4 L129.3 642.0" stroke="#d98a78" stroke-width="0.7" opacity="1"/>
<path d="M105.6 659.9 L129.8 642.7" stroke="#e8b8a0" stroke-width="0.7" opacity="1"/>
<path d="M106.8 661.4 L130.4 643.4" stroke="#9cd0b8" stroke-width="0.7" opacity="1"/>
<path d="M108.0 662.9 L131.0 644.1" stroke="#8ab86a" stroke-width="0.7" opacity="1"/>
<path d="M109.2 664.4 L131.6 644.8" stroke="#6ab0a0" stroke-width="0.7" opacity="1"/>
<path d="M110.4 665.9 L132.1 645.5" stroke="#5a9a5a" stroke-width="0.7" opacity="1"/>
<path d="M111.6 667.4 L132.7 646.2" stroke="#5aa090" stroke-width="0.7" opacity="1"/>
<path d="M112.8 668.9 L133.3 646.9" stroke="#7ab88a" stroke-width="0.7" opacity="1"/>
<path d="M164.05 540.40 A75.8 75.8 0 0 1 200.06 549.71" stroke="#cfc88c" stroke-width="1.7"/>
<path d="M167.04 540.48 A75.8 75.8 0 0 1 167.95 540.52 M172.68 540.94 A75.8 75.8 0 0 1 173.50 541.04 M176.67 541.53 A75.8 75.8 0 0 1 177.59 541.69 M179.55 542.09 A75.8 75.8 0 0 1 180.40 542.27 M183.95 543.17 A75.8 75.8 0 0 1 185.00 543.47 M186.60 543.96 A75.8 75.8 0 0 1 187.27 544.17 M188.84 544.71 A75.8 75.8 0 0 1 189.88 545.08 M193.49 546.52 A75.8 75.8 0 0 1 193.95 546.72 M198.43 548.85 A75.8 75.8 0 0 1 199.51 549.42" stroke="#3a3418" stroke-width="1.7" opacity="0.6"/>
<path d="M202.41 551.06 A75.8 75.8 0 0 1 227.47 575.31" stroke="#c8c884" stroke-width="1.7"/>
<path d="M205.58 553.05 A75.8 75.8 0 0 1 206.37 553.59 M207.93 554.68 A75.8 75.8 0 0 1 208.32 554.96 M210.92 556.95 A75.8 75.8 0 0 1 211.32 557.27 M212.88 558.56 A75.8 75.8 0 0 1 213.38 558.99 M214.45 559.94 A75.8 75.8 0 0 1 215.06 560.50 M217.20 562.55 A75.8 75.8 0 0 1 217.99 563.35 M220.20 565.73 A75.8 75.8 0 0 1 220.85 566.46 M222.88 568.90 A75.8 75.8 0 0 1 223.49 569.67 M225.29 572.09 A75.8 75.8 0 0 1 225.69 572.65" stroke="#3a3a18" stroke-width="1.7" opacity="0.6"/>
<path d="M228.90 577.62 A75.8 75.8 0 0 1 238.53 604.44" stroke="#cccd8a" stroke-width="1.7"/>
<path d="M231.04 581.50 A75.8 75.8 0 0 1 231.50 582.41 M232.58 584.66 A75.8 75.8 0 0 1 232.84 585.25 M233.79 587.45 A75.8 75.8 0 0 1 233.98 587.93 M235.43 591.83 A75.8 75.8 0 0 1 235.67 592.57 M236.94 596.85 A75.8 75.8 0 0 1 237.13 597.59 M238.17 602.35 A75.8 75.8 0 0 1 238.37 603.47" stroke="#4a4a20" stroke-width="1.7" opacity="0.6"/>
<path d="M238.90 607.12 A75.8 75.8 0 0 1 237.19 634.58" stroke="#d87272" stroke-width="1.7"/>
<path d="M239.32 611.80 A75.8 75.8 0 0 1 239.37 612.63 M239.44 617.59 A75.8 75.8 0 0 1 239.42 618.37 M239.36 619.96 A75.8 75.8 0 0 1 239.30 620.92 M238.92 625.11 A75.8 75.8 0 0 1 238.84 625.78 M238.62 627.41 A75.8 75.8 0 0 1 238.51 628.13 M237.58 632.93 A75.8 75.8 0 0 1 237.34 633.97" stroke="#5a1414" stroke-width="1.7" opacity="0.6"/>
<path d="M236.48 637.19 A75.8 75.8 0 0 1 225.06 660.64" stroke="#de8480" stroke-width="1.7"/>
<path d="M235.98 638.88 A75.8 75.8 0 0 1 235.78 639.51 M235.24 641.12 A75.8 75.8 0 0 1 235.07 641.60 M233.52 645.58 A75.8 75.8 0 0 1 233.29 646.14 M231.88 649.23 A75.8 75.8 0 0 1 231.52 649.96 M230.59 651.77 A75.8 75.8 0 0 1 230.09 652.68 M229.20 654.26 A75.8 75.8 0 0 1 228.71 655.10 M227.79 656.59 A75.8 75.8 0 0 1 227.36 657.27 M226.19 659.02 A75.8 75.8 0 0 1 225.81 659.58" stroke="#5e1818" stroke-width="1.7" opacity="0.6"/>
<path d="M223.43 662.81 A75.8 75.8 0 0 1 205.31 679.52" stroke="#c064c0" stroke-width="1.7"/>
<path d="M221.89 664.71 A75.8 75.8 0 0 1 221.14 665.60 M219.75 667.18 A75.8 75.8 0 0 1 219.22 667.75 M216.07 670.95 A75.8 75.8 0 0 1 215.37 671.62 M214.12 672.76 A75.8 75.8 0 0 1 213.18 673.58 M211.56 674.94 A75.8 75.8 0 0 1 211.04 675.36 M207.70 677.88 A75.8 75.8 0 0 1 207.11 678.30" stroke="#4a1450" stroke-width="1.7" opacity="0.6"/>
<path d="M203.02 680.97 A75.8 75.8 0 0 1 181.85 689.78" stroke="#ecd6d6" stroke-width="1.7"/>
<path d="M201.60 681.82 A75.8 75.8 0 0 1 200.79 682.28 M198.84 683.34 A75.8 75.8 0 0 1 198.00 683.77 M195.58 684.95 A75.8 75.8 0 0 1 194.83 685.29 M190.32 687.15 A75.8 75.8 0 0 1 189.53 687.45 M186.26 688.55 A75.8 75.8 0 0 1 185.16 688.89 M183.23 689.43 A75.8 75.8 0 0 1 182.66 689.58" stroke="#7a5a5a" stroke-width="1.7" opacity="0.6"/>
<path d="M179.20 690.39 A75.8 75.8 0 0 1 158.18 691.80" stroke="#eebc68" stroke-width="1.7"/>
<path d="M177.00 690.82 A75.8 75.8 0 0 1 176.39 690.92 M172.37 691.50 A75.8 75.8 0 0 1 171.17 691.63 M169.13 691.80 A75.8 75.8 0 0 1 167.91 691.88 M163.32 692.00 A75.8 75.8 0 0 1 162.38 691.99 M159.50 691.89 A75.8 75.8 0 0 1 158.95 691.85" stroke="#7a4a10" stroke-width="1.7" opacity="0.6"/>
<path d="M155.48 691.56 A75.8 75.8 0 0 1 135.72 686.67" stroke="#f0dc70" stroke-width="1.7"/>
<path d="M154.02 691.39 A75.8 75.8 0 0 1 152.80 691.22 M150.63 690.87 A75.8 75.8 0 0 1 149.62 690.69 M147.39 690.24 A75.8 75.8 0 0 1 146.30 689.99 M142.88 689.10 A75.8 75.8 0 0 1 142.21 688.91 M140.33 688.32 A75.8 75.8 0 0 1 139.35 688.00 M137.86 687.48 A75.8 75.8 0 0 1 137.25 687.26" stroke="#8a6e10" stroke-width="1.7" opacity="0.6"/>
<path d="M133.21 685.62 A75.8 75.8 0 0 1 116.52 675.56" stroke="#e6e666" stroke-width="1.7"/>
<path d="M129.95 684.10 A75.8 75.8 0 0 1 129.34 683.79 M125.20 681.52 A75.8 75.8 0 0 1 124.66 681.21 M123.48 680.48 A75.8 75.8 0 0 1 122.91 680.12 M120.43 678.47 A75.8 75.8 0 0 1 120.02 678.18 M118.42 677.02 A75.8 75.8 0 0 1 117.81 676.57" stroke="#7a7a14" stroke-width="1.7" opacity="0.6"/>
<path d="M114.42 673.84 A75.8 75.8 0 0 1 101.35 659.38" stroke="#d4e064" stroke-width="1.7"/>
<path d="M112.43 672.07 A75.8 75.8 0 0 1 111.57 671.28 M108.08 667.76 A75.8 75.8 0 0 1 107.42 667.03 M104.89 664.08 A75.8 75.8 0 0 1 104.31 663.36 M103.18 661.90 A75.8 75.8 0 0 1 102.88 661.51 M102.06 660.39 A75.8 75.8 0 0 1 101.38 659.42" stroke="#5a6a14" stroke-width="1.7" opacity="0.6"/>
<path d="M99.84 657.12 A75.8 75.8 0 0 1 91.56 639.63" stroke="#98cc6a" stroke-width="1.7"/>
<path d="M97.81 653.77 A75.8 75.8 0 0 1 97.22 652.70 M96.55 651.46 A75.8 75.8 0 0 1 96.11 650.60 M94.75 647.80 A75.8 75.8 0 0 1 94.32 646.85 M93.35 644.55 A75.8 75.8 0 0 1 92.89 643.38 M92.33 641.88 A75.8 75.8 0 0 1 92.03 641.03" stroke="#2e5a18" stroke-width="1.7" opacity="0.6"/>
<path d="M90.77 637.04 A75.8 75.8 0 0 1 87.98 620.66" stroke="#7cac64" stroke-width="1.7"/>
<path d="M89.76 633.11 A75.8 75.8 0 0 1 89.54 632.12 M88.76 627.93 A75.8 75.8 0 0 1 88.59 626.75 M88.27 624.14 A75.8 75.8 0 0 1 88.17 623.14" stroke="#24481a" stroke-width="1.7" opacity="0.6"/>
<path d="M87.87 617.95 A75.8 75.8 0 0 1 89.09 602.53" stroke="#6060bc" stroke-width="1.7"/>
<path d="M87.86 615.08 A75.8 75.8 0 0 1 87.88 613.99 M88.15 609.47 A75.8 75.8 0 0 1 88.24 608.56 M88.69 604.95 A75.8 75.8 0 0 1 88.81 604.19" stroke="#18185a" stroke-width="1.7" opacity="0.6"/>
<path d="M89.63 599.87 A75.8 75.8 0 0 1 94.19 585.85" stroke="#a2b8ec" stroke-width="1.7"/>
<path d="M90.00 598.29 A75.8 75.8 0 0 1 90.23 597.35 M91.63 592.55 A75.8 75.8 0 0 1 92.01 591.45 M93.42 587.68 A75.8 75.8 0 0 1 93.71 586.97" stroke="#3e56a0" stroke-width="1.7" opacity="0.6"/>
<path d="M95.32 583.38 A75.8 75.8 0 0 1 101.95 572.17" stroke="#b8d0f4" stroke-width="1.7"/>
<path d="M96.65 580.74 A75.8 75.8 0 0 1 97.19 579.75 M97.99 578.33 A75.8 75.8 0 0 1 98.53 577.41 M99.27 576.19 A75.8 75.8 0 0 1 99.77 575.39 M101.50 572.81 A75.8 75.8 0 0 1 101.87 572.28" stroke="#4a6cb0" stroke-width="1.7" opacity="0.6"/>
<path d="M103.56 570.00 A75.8 75.8 0 0 1 111.40 561.29" stroke="#86cccc" stroke-width="1.7"/>
<path d="M106.02 566.96 A75.8 75.8 0 0 1 106.58 566.31 M109.02 563.66 A75.8 75.8 0 0 1 109.85 562.80" stroke="#2a6a6a" stroke-width="1.7" opacity="0.6"/>
<path d="M113.40 559.45 A75.8 75.8 0 0 1 122.38 552.62" stroke="#def2f2" stroke-width="1.7"/>
<path d="M115.25 557.87 A75.8 75.8 0 0 1 116.02 557.23 M117.65 555.95 A75.8 75.8 0 0 1 118.13 555.59" stroke="#5a9a9a" stroke-width="1.7" opacity="0.6"/>
<path d="M124.68 551.19 A75.8 75.8 0 0 1 132.24 547.21" stroke="#b472ce" stroke-width="1.7"/>
<path d="M127.25 549.71 A75.8 75.8 0 0 1 128.28 549.16 M130.54 548.01 A75.8 75.8 0 0 1 131.43 547.59" stroke="#4a1e66" stroke-width="1.7" opacity="0.6"/>
<path d="M134.73 546.14 A75.8 75.8 0 0 1 143.35 543.17" stroke="#c082da" stroke-width="1.7"/>
<path d="M138.75 544.61 A75.8 75.8 0 0 1 139.88 544.22" stroke="#54286e" stroke-width="1.7" opacity="0.6"/>
<path d="M145.97 542.49 A75.8 75.8 0 0 1 152.80 541.18" stroke="#d0b8ec" stroke-width="1.7"/>
<path d="M149.38 541.76 A75.8 75.8 0 0 1 150.08 541.62 M151.88 541.32 A75.8 75.8 0 0 1 152.73 541.19" stroke="#6e4ea0" stroke-width="1.7" opacity="0.6"/>
<path d="M155.49 540.84 A75.8 75.8 0 0 1 162.86 540.40" stroke="#a0a0a0" stroke-width="1.7"/>
<path d="M159.90 540.49 A75.8 75.8 0 0 1 161.03 540.45" stroke="#333" stroke-width="1.7" opacity="0.6"/>
</g>
<text x="185.19" y="532.94" font-size="8.6" text-anchor="middle" dominant-baseline="central" transform="rotate(14.5 185.19 532.94)" fill="#000" font-style="italic">1</text>
<text x="223.45" y="554.39" font-size="8.6" text-anchor="middle" dominant-baseline="central" transform="rotate(44.1 223.45 554.39)" fill="#000">2</text>
<text x="244.58" y="587.12" font-size="8.6" text-anchor="middle" dominant-baseline="central" transform="rotate(70.2 244.58 587.12)" fill="#000">3</text>
<text x="247.92" y="620.88" font-size="8.6" text-anchor="middle" dominant-baseline="central" transform="rotate(-86.8 247.92 620.88)" fill="#000">4</text>
<text x="239.77" y="652.65" font-size="8.6" text-anchor="middle" dominant-baseline="central" transform="rotate(-64.4 239.77 652.65)" fill="#000">5</text>
<text x="221.32" y="677.82" font-size="8.6" text-anchor="middle" dominant-baseline="central" transform="rotate(-43.1 221.32 677.82)" fill="#000">6</text>
<text x="196.62" y="693.90" font-size="8.6" text-anchor="middle" dominant-baseline="central" transform="rotate(-23.0 196.62 693.90)" fill="#000">7</text>
<text x="171.52" y="700.23" font-size="8.6" text-anchor="middle" dominant-baseline="central" transform="rotate(-5.3 171.52 700.23)" fill="#000">8</text>
<text x="141.94" y="697.76" font-size="8.6" text-anchor="middle" dominant-baseline="central" transform="rotate(14.9 141.94 697.76)" fill="#000">9</text>
<text x="118.85" y="687.73" font-size="8.6" text-anchor="middle" dominant-baseline="central" transform="rotate(32.1 118.85 687.73)" fill="#000">10</text>
<text x="100.06" y="671.70" font-size="8.6" text-anchor="middle" dominant-baseline="central" transform="rotate(48.9 100.06 671.70)" fill="#000">11</text>
<text x="86.75" y="650.99" font-size="8.6" text-anchor="middle" dominant-baseline="central" transform="rotate(65.7 86.75 650.99)" fill="#000">12</text>
<text x="80.21" y="628.91" font-size="8.6" text-anchor="middle" dominant-baseline="central" transform="rotate(81.3 80.21 628.91)" fill="#000">13</text>
<text x="77.92" y="609.40" font-size="8.6" text-anchor="middle" dominant-baseline="central" transform="rotate(-85.5 77.92 609.40)" fill="#000">14</text>
<text x="81.87" y="589.59" font-size="8.6" text-anchor="middle" dominant-baseline="central" transform="rotate(-72.0 81.87 589.59)" fill="#000">15</text>
<text x="89.61" y="572.45" font-size="8.6" text-anchor="middle" dominant-baseline="central" transform="rotate(-59.4 89.61 572.45)" fill="#000">16</text>
<text x="99.73" y="558.67" font-size="8.6" text-anchor="middle" dominant-baseline="central" transform="rotate(-48.0 99.73 558.67)" fill="#000">17</text>
<text x="111.35" y="547.30" font-size="8.6" text-anchor="middle" dominant-baseline="central" transform="rotate(-37.2 111.35 547.30)" fill="#000">18</text>
<text x="124.17" y="543.19" font-size="8.6" text-anchor="middle" dominant-baseline="central" transform="rotate(-28.4 124.17 543.19)" fill="#000">19</text>
<text x="132.48" y="533.27" font-size="8.6" text-anchor="middle" dominant-baseline="central" transform="rotate(-20.6 132.48 533.27)" fill="#000">20</text>
<text x="146.89" y="537.36" font-size="8.6" text-anchor="middle" dominant-baseline="central" transform="rotate(-12.0 146.89 537.36)" fill="#000">21</text>
<text x="158.22" y="529.87" font-size="8.6" text-anchor="middle" dominant-baseline="central" transform="rotate(-3.6 158.22 529.87)" fill="#000">22</text>
<text x="163.65" y="618.60" font-size="11.4" text-anchor="middle" fill="#111" >MEITL13</text>
<g fill="none">
<path d="M429.8 584.5 Q364.7 617.6 321.6 676.8" stroke="#4a4a4a" stroke-width="0.7" opacity="1.0"/>
<path d="M437.8 608.6 C397 608 374 652 393.4 683" stroke="#8c8c8c" stroke-width="0.6"/>
<path d="M435.7 634.4 C395 620 388 650 411.3 672.5" stroke="#8c8c8c" stroke-width="0.6"/>
<path d="M436.7 626.4 L406.7 622.0" stroke="#8cc07a" stroke-width="0.6" opacity="1.0"/>
<path d="M397.0 682.0 L381.7 654.5" stroke="#a9c9ea" stroke-width="0.5" opacity="1.0"/>
<path d="M399.2 681.3 L383.8 654.5" stroke="#a9c9ea" stroke-width="0.5" opacity="1.0"/>
<path d="M353.0 687.0 L357.8 658.0" stroke="#a9c9ea" stroke-width="0.5" opacity="1.0"/>
<path d="M321.8 675.5 L338.0 651.5" stroke="#a8d09a" stroke-width="0.6" opacity="1.0"/>
<path d="M349.4 545 Q365 610 289.5 633" stroke="#8c8c8c" stroke-width="0.6"/>
<path d="M347 545.4 C348.3 560 349.8 573 351.4 575.8 C352.6 573 350.8 560 349.4 545" stroke="#555" stroke-width="0.55"/>
<path d="M337.7 547.5 C342 560 347 571 351 575.5" stroke="#8c8c8c" stroke-width="0.6"/>
<path d="M327.0 551.7 L344.0 579.0" stroke="#a9c9ea" stroke-width="0.5" opacity="1.0"/>
<path d="M329.5 550.5 L345.0 577.0" stroke="#a9c9ea" stroke-width="0.5" opacity="1.0"/>
<path d="M333.0 549.5 L346.0 574.0" stroke="#a9c9ea" stroke-width="0.5" opacity="1.0"/>
<path d="M291.0 614.6 L321.8 615.6" stroke="#a9c9ea" stroke-width="0.5" opacity="1.0"/>
<path d="M364.40 540.40 A75.8 75.8 0 0 1 400.41 549.71" stroke="#cfc88c" stroke-width="1.7"/>
<path d="M369.27 540.58 A75.8 75.8 0 0 1 369.84 540.63 M371.24 540.75 A75.8 75.8 0 0 1 372.49 540.88 M374.48 541.13 A75.8 75.8 0 0 1 375.03 541.21 M378.72 541.84 A75.8 75.8 0 0 1 379.44 541.99 M383.93 543.07 A75.8 75.8 0 0 1 384.55 543.24 M389.20 544.71 A75.8 75.8 0 0 1 389.88 544.95 M393.18 546.24 A75.8 75.8 0 0 1 394.29 546.71 M397.79 548.35 A75.8 75.8 0 0 1 398.85 548.89" stroke="#3a3418" stroke-width="1.7" opacity="0.6"/>
<path d="M402.76 551.06 A75.8 75.8 0 0 1 427.82 575.31" stroke="#c8c884" stroke-width="1.7"/>
<path d="M406.63 553.52 A75.8 75.8 0 0 1 407.40 554.05 M409.40 555.50 A75.8 75.8 0 0 1 409.89 555.87 M413.37 558.68 A75.8 75.8 0 0 1 414.07 559.29 M417.57 562.57 A75.8 75.8 0 0 1 418.32 563.34 M421.61 566.94 A75.8 75.8 0 0 1 422.20 567.64 M424.63 570.71 A75.8 75.8 0 0 1 425.19 571.47 M426.51 573.33 A75.8 75.8 0 0 1 427.19 574.34" stroke="#3a3a18" stroke-width="1.7" opacity="0.6"/>
<path d="M429.25 577.62 A75.8 75.8 0 0 1 438.88 604.44" stroke="#cccd8a" stroke-width="1.7"/>
<path d="M431.58 581.88 A75.8 75.8 0 0 1 432.02 582.75 M432.82 584.42 A75.8 75.8 0 0 1 433.28 585.44 M434.73 588.95 A75.8 75.8 0 0 1 434.95 589.52 M435.46 590.93 A75.8 75.8 0 0 1 435.75 591.77 M436.21 593.14 A75.8 75.8 0 0 1 436.56 594.28 M437.42 597.36 A75.8 75.8 0 0 1 437.63 598.21 M438.26 600.98 A75.8 75.8 0 0 1 438.45 601.95" stroke="#4a4a20" stroke-width="1.7" opacity="0.6"/>
<path d="M439.25 607.12 A75.8 75.8 0 0 1 437.54 634.58" stroke="#d87272" stroke-width="1.7"/>
<path d="M439.53 609.82 A75.8 75.8 0 0 1 439.60 610.74 M439.74 613.16 A75.8 75.8 0 0 1 439.77 614.10 M439.79 617.43 A75.8 75.8 0 0 1 439.77 618.24 M439.57 622.05 A75.8 75.8 0 0 1 439.50 622.93 M439.34 624.57 A75.8 75.8 0 0 1 439.19 625.81 M438.81 628.43 A75.8 75.8 0 0 1 438.67 629.22 M438.14 631.99 A75.8 75.8 0 0 1 437.88 633.16" stroke="#5a1414" stroke-width="1.7" opacity="0.6"/>
<path d="M436.83 637.19 A75.8 75.8 0 0 1 425.41 660.64" stroke="#de8480" stroke-width="1.7"/>
<path d="M436.01 639.88 A75.8 75.8 0 0 1 435.84 640.39 M434.22 644.74 A75.8 75.8 0 0 1 433.99 645.29 M432.64 648.35 A75.8 75.8 0 0 1 432.32 649.02 M431.19 651.29 A75.8 75.8 0 0 1 430.84 651.95 M429.86 653.73 A75.8 75.8 0 0 1 429.61 654.16 M427.89 656.98 A75.8 75.8 0 0 1 427.30 657.90" stroke="#5e1818" stroke-width="1.7" opacity="0.6"/>
<path d="M423.78 662.81 A75.8 75.8 0 0 1 405.66 679.52" stroke="#c064c0" stroke-width="1.7"/>
<path d="M421.31 665.81 A75.8 75.8 0 0 1 420.98 666.19 M419.06 668.29 A75.8 75.8 0 0 1 418.29 669.10 M414.88 672.39 A75.8 75.8 0 0 1 414.26 672.94 M410.84 675.80 A75.8 75.8 0 0 1 410.16 676.32 M407.53 678.26 A75.8 75.8 0 0 1 406.77 678.78" stroke="#4a1450" stroke-width="1.7" opacity="0.6"/>
<path d="M403.37 680.97 A75.8 75.8 0 0 1 382.20 689.78" stroke="#ecd6d6" stroke-width="1.7"/>
<path d="M400.71 682.52 A75.8 75.8 0 0 1 399.80 683.01 M396.49 684.68 A75.8 75.8 0 0 1 395.82 685.00 M391.93 686.67 A75.8 75.8 0 0 1 390.89 687.07 M387.52 688.26 A75.8 75.8 0 0 1 386.37 688.63 M385.03 689.02 A75.8 75.8 0 0 1 384.21 689.26" stroke="#7a5a5a" stroke-width="1.7" opacity="0.6"/>
<path d="M379.55 690.39 A75.8 75.8 0 0 1 358.53 691.80" stroke="#eebc68" stroke-width="1.7"/>
<path d="M377.63 690.76 A75.8 75.8 0 0 1 376.63 690.94 M373.73 691.37 A75.8 75.8 0 0 1 373.06 691.46 M371.59 691.62 A75.8 75.8 0 0 1 370.37 691.73 M367.75 691.91 A75.8 75.8 0 0 1 367.19 691.93 M365.07 691.99 A75.8 75.8 0 0 1 364.40 692.00 M359.87 691.89 A75.8 75.8 0 0 1 359.27 691.85" stroke="#7a4a10" stroke-width="1.7" opacity="0.6"/>
<path d="M355.83 691.56 A75.8 75.8 0 0 1 336.07 686.67" stroke="#f0dc70" stroke-width="1.7"/>
<path d="M353.50 691.27 A75.8 75.8 0 0 1 352.96 691.19 M349.94 690.68 A75.8 75.8 0 0 1 349.32 690.57 M346.79 690.02 A75.8 75.8 0 0 1 345.77 689.77 M341.20 688.49 A75.8 75.8 0 0 1 340.13 688.14 M338.74 687.67 A75.8 75.8 0 0 1 338.02 687.41" stroke="#8a6e10" stroke-width="1.7" opacity="0.6"/>
<path d="M333.56 685.62 A75.8 75.8 0 0 1 316.87 675.56" stroke="#e6e666" stroke-width="1.7"/>
<path d="M331.67 684.76 A75.8 75.8 0 0 1 330.91 684.39 M328.46 683.15 A75.8 75.8 0 0 1 327.53 682.65 M324.09 680.64 A75.8 75.8 0 0 1 323.39 680.20 M321.51 678.97 A75.8 75.8 0 0 1 320.98 678.61 M319.10 677.27 A75.8 75.8 0 0 1 318.68 676.96" stroke="#7a7a14" stroke-width="1.7" opacity="0.6"/>
<path d="M314.77 673.84 A75.8 75.8 0 0 1 301.70 659.38" stroke="#d4e064" stroke-width="1.7"/>
<path d="M311.35 670.73 A75.8 75.8 0 0 1 310.66 670.05 M309.58 668.96 A75.8 75.8 0 0 1 308.98 668.34 M306.60 665.70 A75.8 75.8 0 0 1 306.27 665.33 M304.30 662.90 A75.8 75.8 0 0 1 304.00 662.52" stroke="#5a6a14" stroke-width="1.7" opacity="0.6"/>
<path d="M300.19 657.12 A75.8 75.8 0 0 1 291.91 639.63" stroke="#98cc6a" stroke-width="1.7"/>
<path d="M298.29 653.99 A75.8 75.8 0 0 1 297.68 652.91 M295.64 648.94 A75.8 75.8 0 0 1 295.36 648.36 M294.02 645.34 A75.8 75.8 0 0 1 293.81 644.81 M292.87 642.39 A75.8 75.8 0 0 1 292.48 641.31" stroke="#2e5a18" stroke-width="1.7" opacity="0.6"/>
<path d="M291.12 637.04 A75.8 75.8 0 0 1 288.33 620.66" stroke="#7cac64" stroke-width="1.7"/>
<path d="M290.42 634.40 A75.8 75.8 0 0 1 290.19 633.46 M289.77 631.53 A75.8 75.8 0 0 1 289.55 630.45 M288.82 625.88 A75.8 75.8 0 0 1 288.71 624.98 M288.45 622.33 A75.8 75.8 0 0 1 288.37 621.20" stroke="#24481a" stroke-width="1.7" opacity="0.6"/>
<path d="M288.22 617.95 A75.8 75.8 0 0 1 289.44 602.53" stroke="#6060bc" stroke-width="1.7"/>
<path d="M288.21 614.72 A75.8 75.8 0 0 1 288.23 614.11 M288.33 611.76 A75.8 75.8 0 0 1 288.37 611.17 M288.79 606.76 A75.8 75.8 0 0 1 288.90 605.90" stroke="#18185a" stroke-width="1.7" opacity="0.6"/>
<path d="M289.98 599.87 A75.8 75.8 0 0 1 294.54 585.85" stroke="#a2b8ec" stroke-width="1.7"/>
<path d="M291.20 595.09 A75.8 75.8 0 0 1 291.37 594.50 M292.23 591.81 A75.8 75.8 0 0 1 292.61 590.72 M294.11 586.86 A75.8 75.8 0 0 1 294.41 586.15" stroke="#3e56a0" stroke-width="1.7" opacity="0.6"/>
<path d="M295.67 583.38 A75.8 75.8 0 0 1 302.30 572.17" stroke="#b8d0f4" stroke-width="1.7"/>
<path d="M297.38 580.04 A75.8 75.8 0 0 1 297.68 579.50 M298.63 577.83 A75.8 75.8 0 0 1 298.89 577.40 M300.33 575.08 A75.8 75.8 0 0 1 300.68 574.53" stroke="#4a6cb0" stroke-width="1.7" opacity="0.6"/>
<path d="M303.91 570.00 A75.8 75.8 0 0 1 311.75 561.29" stroke="#86cccc" stroke-width="1.7"/>
<path d="M305.08 568.51 A75.8 75.8 0 0 1 305.65 567.81 M308.65 564.42 A75.8 75.8 0 0 1 309.29 563.74" stroke="#2a6a6a" stroke-width="1.7" opacity="0.6"/>
<path d="M313.75 559.45 A75.8 75.8 0 0 1 322.73 552.62" stroke="#def2f2" stroke-width="1.7"/>
<path d="M314.81 558.53 A75.8 75.8 0 0 1 315.74 557.75 M318.78 555.37 A75.8 75.8 0 0 1 319.67 554.71" stroke="#5a9a9a" stroke-width="1.7" opacity="0.6"/>
<path d="M325.03 551.19 A75.8 75.8 0 0 1 332.59 547.21" stroke="#b472ce" stroke-width="1.7"/>
<path d="M326.38 550.39 A75.8 75.8 0 0 1 326.91 550.09 M329.73 548.59 A75.8 75.8 0 0 1 330.81 548.05" stroke="#4a1e66" stroke-width="1.7" opacity="0.6"/>
<path d="M335.08 546.14 A75.8 75.8 0 0 1 343.70 543.17" stroke="#c082da" stroke-width="1.7"/>
<path d="M338.46 544.83 A75.8 75.8 0 0 1 339.45 544.48 M341.88 543.70 A75.8 75.8 0 0 1 343.07 543.35" stroke="#54286e" stroke-width="1.7" opacity="0.6"/>
<path d="M346.32 542.49 A75.8 75.8 0 0 1 353.15 541.18" stroke="#d0b8ec" stroke-width="1.7"/>
<path d="M351.03 541.52 A75.8 75.8 0 0 1 352.06 541.35" stroke="#6e4ea0" stroke-width="1.7" opacity="0.6"/>
<path d="M355.84 540.84 A75.8 75.8 0 0 1 363.21 540.40" stroke="#a0a0a0" stroke-width="1.7"/>
<path d="M359.56 540.53 A75.8 75.8 0 0 1 360.28 540.49" stroke="#333" stroke-width="1.7" opacity="0.6"/>
</g>
<text x="385.54" y="532.94" font-size="8.6" text-anchor="middle" dominant-baseline="central" transform="rotate(14.5 385.54 532.94)" fill="#000" font-style="italic">1</text>
<text x="423.80" y="554.39" font-size="8.6" text-anchor="middle" dominant-baseline="central" transform="rotate(44.1 423.80 554.39)" fill="#000">2</text>
<text x="444.93" y="587.12" font-size="8.6" text-anchor="middle" dominant-baseline="central" transform="rotate(70.2 444.93 587.12)" fill="#000">3</text>
<text x="448.27" y="620.88" font-size="8.6" text-anchor="middle" dominant-baseline="central" transform="rotate(-86.8 448.27 620.88)" fill="#000">4</text>
<text x="440.12" y="652.65" font-size="8.6" text-anchor="middle" dominant-baseline="central" transform="rotate(-64.4 440.12 652.65)" fill="#000">5</text>
<text x="421.67" y="677.82" font-size="8.6" text-anchor="middle" dominant-baseline="central" transform="rotate(-43.1 421.67 677.82)" fill="#000">6</text>
<text x="396.97" y="693.90" font-size="8.6" text-anchor="middle" dominant-baseline="central" transform="rotate(-23.0 396.97 693.90)" fill="#000">7</text>
<text x="371.87" y="700.23" font-size="8.6" text-anchor="middle" dominant-baseline="central" transform="rotate(-5.3 371.87 700.23)" fill="#000">8</text>
<text x="342.29" y="697.76" font-size="8.6" text-anchor="middle" dominant-baseline="central" transform="rotate(14.9 342.29 697.76)" fill="#000">9</text>
<text x="319.20" y="687.73" font-size="8.6" text-anchor="middle" dominant-baseline="central" transform="rotate(32.1 319.20 687.73)" fill="#000">10</text>
<text x="300.41" y="671.70" font-size="8.6" text-anchor="middle" dominant-baseline="central" transform="rotate(48.9 300.41 671.70)" fill="#000">11</text>
<text x="287.10" y="650.99" font-size="8.6" text-anchor="middle" dominant-baseline="central" transform="rotate(65.7 287.10 650.99)" fill="#000">12</text>
<text x="280.56" y="628.91" font-size="8.6" text-anchor="middle" dominant-baseline="central" transform="rotate(81.3 280.56 628.91)" fill="#000">13</text>
<text x="278.27" y="609.40" font-size="8.6" text-anchor="middle" dominant-baseline="central" transform="rotate(-85.5 278.27 609.40)" fill="#000">14</text>
<text x="282.22" y="589.59" font-size="8.6" text-anchor="middle" dominant-baseline="central" transform="rotate(-72.0 282.22 589.59)" fill="#000">15</text>
<text x="289.96" y="572.45" font-size="8.6" text-anchor="middle" dominant-baseline="central" transform="rotate(-59.4 289.96 572.45)" fill="#000">16</text>
<text x="300.08" y="558.67" font-size="8.6" text-anchor="middle" dominant-baseline="central" transform="rotate(-48.0 300.08 558.67)" fill="#000">17</text>
<text x="311.70" y="547.30" font-size="8.6" text-anchor="middle" dominant-baseline="central" transform="rotate(-37.2 311.70 547.30)" fill="#000">18</text>
<text x="324.52" y="543.19" font-size="8.6" text-anchor="middle" dominant-baseline="central" transform="rotate(-28.4 324.52 543.19)" fill="#000">19</text>
<text x="332.83" y="533.27" font-size="8.6" text-anchor="middle" dominant-baseline="central" transform="rotate(-20.6 332.83 533.27)" fill="#000">20</text>
<text x="346.70" y="534.82" font-size="8.6" text-anchor="middle" dominant-baseline="central" transform="rotate(-12.0 346.70 534.82)" fill="#000">21</text>
<text x="358.57" y="529.87" font-size="8.6" text-anchor="middle" dominant-baseline="central" transform="rotate(-3.6 358.57 529.87)" fill="#000">22</text>
<text x="364.00" y="618.60" font-size="11.4" text-anchor="middle" fill="#111" >MEITL63</text>
<g fill="none">
<path d="M116 760 C128 775 138 782 143.5 781 C149 778 152 760 150.9 745" stroke="#333" stroke-width="0.6"/>
<path d="M117 759 C130 772 140 780 145 779 C150 776 151 760 149.5 745.3" stroke="#444" stroke-width="0.5"/>
<path d="M118.5 758 C128 770 139 778 144 777.5 C147 774 146 760 141 747.5" stroke="#555" stroke-width="0.5"/>
<path d="M135.4 748.7 C140 762 144 775 147.7 775.8 C151 772 152 758 150.9 745" stroke="#222" stroke-width="0.6"/>
<path d="M137.5 748 C141 760 145 772 148.5 773 C151 770 150.5 756 149 745.5" stroke="#444" stroke-width="0.5"/>
<path d="M115.5 761.0 L136.0 784.0" stroke="#b9805a" stroke-width="0.6" opacity="1.0"/>
<path d="M114.8 762.0 L135.0 785.0" stroke="#d9a07a" stroke-width="0.6" opacity="1.0"/>
<path d="M116.5 760.0 L137.0 783.0" stroke="#8a5a4a" stroke-width="0.5" opacity="1.0"/>
<path d="M138.0 749.0 L147.3 776.8" stroke="#6aa86a" stroke-width="0.6" opacity="1.0"/>
<path d="M175.2 745.0 L170.5 774.7" stroke="#a9c9ea" stroke-width="0.5" opacity="1.0"/>
<path d="M91.6 803.3 L121.3 809.0" stroke="#a9c9ea" stroke-width="0.5" opacity="1.0"/>
<path d="M90.6 815.5 L120.2 816.4" stroke="#a9c9ea" stroke-width="0.5" opacity="1.0"/>
<path d="M95.6 846.7 L125.0 834.0" stroke="#a9c9ea" stroke-width="0.5" opacity="1.0"/>
<path d="M99.0 852.0 L126.7 837.4" stroke="#a8d09a" stroke-width="0.5" opacity="1.0"/>
<path d="M98.5 851.0 L126.7 836.5" stroke="#5aa89a" stroke-width="0.5" opacity="0.7"/>
<path d="M172.8 889.3 L169.3 858.8" stroke="#e8958a" stroke-width="0.6" opacity="1.0"/>
<path d="M174.8 889.5 L171.0 858.8" stroke="#e8958a" stroke-width="0.5" opacity="1.0"/>
<path d="M183.0 888.0 L175.0 858.8" stroke="#a8d09a" stroke-width="0.6" opacity="1.0"/>
<path d="M197.7 883.0 L183.8 855.4" stroke="#a9c9ea" stroke-width="0.5" opacity="1.0"/>
<path d="M229.0 787.0 L202.0 799.0" stroke="#a9c9ea" stroke-width="0.5" opacity="1.0"/>
<path d="M164.10 740.90 A75.8 75.8 0 0 1 200.11 750.21" stroke="#cfc88c" stroke-width="1.7"/>
<path d="M167.53 741.00 A75.8 75.8 0 0 1 168.49 741.05 M172.82 741.45 A75.8 75.8 0 0 1 173.50 741.54 M177.20 742.11 A75.8 75.8 0 0 1 178.35 742.33 M182.92 743.38 A75.8 75.8 0 0 1 183.51 743.53 M187.09 744.60 A75.8 75.8 0 0 1 187.99 744.90 M190.99 745.98 A75.8 75.8 0 0 1 192.13 746.43 M195.15 747.73 A75.8 75.8 0 0 1 195.89 748.07" stroke="#3a3418" stroke-width="1.7" opacity="0.6"/>
<path d="M202.46 751.56 A75.8 75.8 0 0 1 227.52 775.81" stroke="#c8c884" stroke-width="1.7"/>
<path d="M204.54 752.84 A75.8 75.8 0 0 1 205.13 753.22 M207.74 755.01 A75.8 75.8 0 0 1 208.15 755.30 M211.00 757.47 A75.8 75.8 0 0 1 211.81 758.12 M214.02 760.01 A75.8 75.8 0 0 1 214.86 760.77 M218.27 764.09 A75.8 75.8 0 0 1 218.89 764.74 M221.46 767.61 A75.8 75.8 0 0 1 221.82 768.04 M222.79 769.22 A75.8 75.8 0 0 1 223.56 770.19 M224.98 772.09 A75.8 75.8 0 0 1 225.35 772.60" stroke="#3a3a18" stroke-width="1.7" opacity="0.6"/>
<path d="M228.95 778.12 A75.8 75.8 0 0 1 238.58 804.94" stroke="#cccd8a" stroke-width="1.7"/>
<path d="M229.83 779.66 A75.8 75.8 0 0 1 230.18 780.29 M231.22 782.25 A75.8 75.8 0 0 1 231.53 782.86 M232.12 784.07 A75.8 75.8 0 0 1 232.49 784.86 M233.48 787.10 A75.8 75.8 0 0 1 233.78 787.82 M234.52 789.69 A75.8 75.8 0 0 1 234.72 790.20 M235.21 791.56 A75.8 75.8 0 0 1 235.59 792.65 M236.78 796.57 A75.8 75.8 0 0 1 237.01 797.44 M237.45 799.17 A75.8 75.8 0 0 1 237.58 799.74 M237.95 801.46 A75.8 75.8 0 0 1 238.09 802.16 M238.37 803.68 A75.8 75.8 0 0 1 238.49 804.35" stroke="#4a4a20" stroke-width="1.7" opacity="0.6"/>
<path d="M238.95 807.62 A75.8 75.8 0 0 1 237.24 835.08" stroke="#d87272" stroke-width="1.7"/>
<path d="M239.17 809.69 A75.8 75.8 0 0 1 239.23 810.30 M239.45 814.04 A75.8 75.8 0 0 1 239.48 814.86 M239.49 817.94 A75.8 75.8 0 0 1 239.47 818.69 M239.31 822.00 A75.8 75.8 0 0 1 239.23 823.09 M238.98 825.54 A75.8 75.8 0 0 1 238.92 826.05 M238.47 829.13 A75.8 75.8 0 0 1 238.35 829.88 M237.50 834.01 A75.8 75.8 0 0 1 237.37 834.54" stroke="#5a1414" stroke-width="1.7" opacity="0.6"/>
<path d="M236.53 837.69 A75.8 75.8 0 0 1 225.11 861.14" stroke="#de8480" stroke-width="1.7"/>
<path d="M235.14 842.03 A75.8 75.8 0 0 1 234.98 842.48 M233.78 845.59 A75.8 75.8 0 0 1 233.47 846.34 M232.45 848.61 A75.8 75.8 0 0 1 231.95 849.67 M230.16 853.16 A75.8 75.8 0 0 1 229.87 853.68 M228.27 856.40 A75.8 75.8 0 0 1 227.77 857.20 M226.99 858.42 A75.8 75.8 0 0 1 226.69 858.86" stroke="#5e1818" stroke-width="1.7" opacity="0.6"/>
<path d="M223.48 863.31 A75.8 75.8 0 0 1 205.36 880.02" stroke="#c064c0" stroke-width="1.7"/>
<path d="M221.56 865.66 A75.8 75.8 0 0 1 221.05 866.27 M218.90 868.65 A75.8 75.8 0 0 1 218.44 869.13 M215.18 872.33 A75.8 75.8 0 0 1 214.28 873.16 M211.92 875.19 A75.8 75.8 0 0 1 211.55 875.49 M209.35 877.21 A75.8 75.8 0 0 1 208.47 877.87 M206.40 879.33 A75.8 75.8 0 0 1 205.95 879.63" stroke="#4a1450" stroke-width="1.7" opacity="0.6"/>
<path d="M203.07 881.47 A75.8 75.8 0 0 1 181.90 890.28" stroke="#ecd6d6" stroke-width="1.7"/>
<path d="M201.34 882.49 A75.8 75.8 0 0 1 200.45 883.00 M197.23 884.68 A75.8 75.8 0 0 1 196.61 884.98 M193.30 886.48 A75.8 75.8 0 0 1 192.32 886.89 M187.72 888.59 A75.8 75.8 0 0 1 186.65 888.94 M183.84 889.77 A75.8 75.8 0 0 1 182.78 890.06" stroke="#7a5a5a" stroke-width="1.7" opacity="0.6"/>
<path d="M179.25 890.89 A75.8 75.8 0 0 1 158.23 892.30" stroke="#eebc68" stroke-width="1.7"/>
<path d="M175.22 891.62 A75.8 75.8 0 0 1 174.30 891.76 M171.10 892.14 A75.8 75.8 0 0 1 169.97 892.24 M166.34 892.45 A75.8 75.8 0 0 1 165.30 892.48 M163.14 892.50 A75.8 75.8 0 0 1 162.60 892.49 M160.28 892.42 A75.8 75.8 0 0 1 159.35 892.38" stroke="#7a4a10" stroke-width="1.7" opacity="0.6"/>
<path d="M155.53 892.06 A75.8 75.8 0 0 1 135.77 887.17" stroke="#f0dc70" stroke-width="1.7"/>
<path d="M153.52 891.81 A75.8 75.8 0 0 1 152.31 891.64 M150.75 891.39 A75.8 75.8 0 0 1 149.57 891.17 M145.48 890.28 A75.8 75.8 0 0 1 144.59 890.05 M139.79 888.63 A75.8 75.8 0 0 1 138.84 888.31 M137.57 887.85 A75.8 75.8 0 0 1 136.44 887.43" stroke="#8a6e10" stroke-width="1.7" opacity="0.6"/>
<path d="M133.26 886.12 A75.8 75.8 0 0 1 116.57 876.06" stroke="#e6e666" stroke-width="1.7"/>
<path d="M130.67 884.93 A75.8 75.8 0 0 1 129.60 884.40 M125.79 882.34 A75.8 75.8 0 0 1 125.29 882.05 M124.03 881.29 A75.8 75.8 0 0 1 123.63 881.04 M120.11 878.71 A75.8 75.8 0 0 1 119.22 878.08 M117.49 876.78 A75.8 75.8 0 0 1 117.05 876.44" stroke="#7a7a14" stroke-width="1.7" opacity="0.6"/>
<path d="M114.47 874.34 A75.8 75.8 0 0 1 101.40 859.88" stroke="#d4e064" stroke-width="1.7"/>
<path d="M112.46 872.56 A75.8 75.8 0 0 1 111.66 871.81 M108.78 868.94 A75.8 75.8 0 0 1 107.99 868.10 M104.78 864.39 A75.8 75.8 0 0 1 104.12 863.56" stroke="#5a6a14" stroke-width="1.7" opacity="0.6"/>
<path d="M99.89 857.62 A75.8 75.8 0 0 1 91.61 840.13" stroke="#98cc6a" stroke-width="1.7"/>
<path d="M99.18 856.48 A75.8 75.8 0 0 1 98.58 855.50 M96.81 852.35 A75.8 75.8 0 0 1 96.47 851.71 M95.66 850.11 A75.8 75.8 0 0 1 95.34 849.45 M94.27 847.11 A75.8 75.8 0 0 1 93.93 846.32 M92.81 843.55 A75.8 75.8 0 0 1 92.60 842.96 M92.05 841.43 A75.8 75.8 0 0 1 91.85 840.84" stroke="#2e5a18" stroke-width="1.7" opacity="0.6"/>
<path d="M90.82 837.54 A75.8 75.8 0 0 1 88.03 821.16" stroke="#7cac64" stroke-width="1.7"/>
<path d="M90.35 835.80 A75.8 75.8 0 0 1 90.21 835.28 M89.56 832.49 A75.8 75.8 0 0 1 89.45 831.94 M88.71 827.72 A75.8 75.8 0 0 1 88.58 826.83 M88.24 823.83 A75.8 75.8 0 0 1 88.15 822.86" stroke="#24481a" stroke-width="1.7" opacity="0.6"/>
<path d="M87.92 818.45 A75.8 75.8 0 0 1 89.14 803.03" stroke="#6060bc" stroke-width="1.7"/>
<path d="M87.90 816.83 A75.8 75.8 0 0 1 87.90 816.10 M87.97 813.44 A75.8 75.8 0 0 1 88.00 812.78 M88.17 810.33 A75.8 75.8 0 0 1 88.27 809.21 M88.42 807.86 A75.8 75.8 0 0 1 88.52 807.04 M88.92 804.33 A75.8 75.8 0 0 1 89.03 803.66" stroke="#18185a" stroke-width="1.7" opacity="0.6"/>
<path d="M89.68 800.37 A75.8 75.8 0 0 1 94.24 786.35" stroke="#a2b8ec" stroke-width="1.7"/>
<path d="M90.65 796.48 A75.8 75.8 0 0 1 90.82 795.86 M91.24 794.44 A75.8 75.8 0 0 1 91.42 793.88 M93.06 789.22 A75.8 75.8 0 0 1 93.33 788.53" stroke="#3e56a0" stroke-width="1.7" opacity="0.6"/>
<path d="M95.37 783.88 A75.8 75.8 0 0 1 102.00 772.67" stroke="#b8d0f4" stroke-width="1.7"/>
<path d="M97.06 780.57 A75.8 75.8 0 0 1 97.65 779.51 M98.94 777.30 A75.8 75.8 0 0 1 99.52 776.36 M100.32 775.12 A75.8 75.8 0 0 1 100.68 774.58" stroke="#4a6cb0" stroke-width="1.7" opacity="0.6"/>
<path d="M103.61 770.50 A75.8 75.8 0 0 1 111.45 761.79" stroke="#86cccc" stroke-width="1.7"/>
<path d="M106.29 767.20 A75.8 75.8 0 0 1 106.80 766.62 M109.92 763.29 A75.8 75.8 0 0 1 110.29 762.91" stroke="#2a6a6a" stroke-width="1.7" opacity="0.6"/>
<path d="M113.45 759.95 A75.8 75.8 0 0 1 122.43 753.12" stroke="#def2f2" stroke-width="1.7"/>
<path d="M115.01 758.61 A75.8 75.8 0 0 1 115.91 757.87 M118.20 756.07 A75.8 75.8 0 0 1 119.10 755.41 M121.04 754.05 A75.8 75.8 0 0 1 121.90 753.46" stroke="#5a9a9a" stroke-width="1.7" opacity="0.6"/>
<path d="M124.73 751.69 A75.8 75.8 0 0 1 132.29 747.71" stroke="#b472ce" stroke-width="1.7"/>
<path d="M128.82 749.40 A75.8 75.8 0 0 1 129.67 748.97" stroke="#4a1e66" stroke-width="1.7" opacity="0.6"/>
<path d="M134.78 746.64 A75.8 75.8 0 0 1 143.40 743.67" stroke="#c082da" stroke-width="1.7"/>
<path d="M139.31 744.93 A75.8 75.8 0 0 1 140.35 744.58" stroke="#54286e" stroke-width="1.7" opacity="0.6"/>
<path d="M146.02 742.99 A75.8 75.8 0 0 1 152.85 741.68" stroke="#d0b8ec" stroke-width="1.7"/>
<path d="M147.67 742.61 A75.8 75.8 0 0 1 148.72 742.40 M150.60 742.04 A75.8 75.8 0 0 1 151.22 741.93" stroke="#6e4ea0" stroke-width="1.7" opacity="0.6"/>
<path d="M155.54 741.34 A75.8 75.8 0 0 1 162.91 740.90" stroke="#a0a0a0" stroke-width="1.7"/>
<path d="M158.27 741.09 A75.8 75.8 0 0 1 159.11 741.04 M161.08 740.95 A75.8 75.8 0 0 1 161.88 740.92" stroke="#333" stroke-width="1.7" opacity="0.6"/>
</g>
<text x="185.24" y="733.44" font-size="8.6" text-anchor="middle" dominant-baseline="central" transform="rotate(14.5 185.24 733.44)" fill="#000" font-style="italic">1</text>
<text x="223.50" y="754.89" font-size="8.6" text-anchor="middle" dominant-baseline="central" transform="rotate(44.1 223.50 754.89)" fill="#000">2</text>
<text x="244.63" y="787.62" font-size="8.6" text-anchor="middle" dominant-baseline="central" transform="rotate(70.2 244.63 787.62)" fill="#000">3</text>
<text x="247.97" y="821.38" font-size="8.6" text-anchor="middle" dominant-baseline="central" transform="rotate(-86.8 247.97 821.38)" fill="#000">4</text>
<text x="239.82" y="853.15" font-size="8.6" text-anchor="middle" dominant-baseline="central" transform="rotate(-64.4 239.82 853.15)" fill="#000">5</text>
<text x="221.37" y="878.32" font-size="8.6" text-anchor="middle" dominant-baseline="central" transform="rotate(-43.1 221.37 878.32)" fill="#000">6</text>
<text x="196.67" y="894.40" font-size="8.6" text-anchor="middle" dominant-baseline="central" transform="rotate(-23.0 196.67 894.40)" fill="#000">7</text>
<text x="171.57" y="900.73" font-size="8.6" text-anchor="middle" dominant-baseline="central" transform="rotate(-5.3 171.57 900.73)" fill="#000">8</text>
<text x="141.99" y="898.26" font-size="8.6" text-anchor="middle" dominant-baseline="central" transform="rotate(14.9 141.99 898.26)" fill="#000">9</text>
<text x="118.90" y="888.23" font-size="8.6" text-anchor="middle" dominant-baseline="central" transform="rotate(32.1 118.90 888.23)" fill="#000">10</text>
<text x="100.11" y="872.20" font-size="8.6" text-anchor="middle" dominant-baseline="central" transform="rotate(48.9 100.11 872.20)" fill="#000">11</text>
<text x="86.80" y="851.49" font-size="8.6" text-anchor="middle" dominant-baseline="central" transform="rotate(65.7 86.80 851.49)" fill="#000">12</text>
<text x="80.26" y="829.41" font-size="8.6" text-anchor="middle" dominant-baseline="central" transform="rotate(81.3 80.26 829.41)" fill="#000">13</text>
<text x="77.97" y="809.90" font-size="8.6" text-anchor="middle" dominant-baseline="central" transform="rotate(-85.5 77.97 809.90)" fill="#000">14</text>
<text x="81.92" y="790.09" font-size="8.6" text-anchor="middle" dominant-baseline="central" transform="rotate(-72.0 81.92 790.09)" fill="#000">15</text>
<text x="89.66" y="772.95" font-size="8.6" text-anchor="middle" dominant-baseline="central" transform="rotate(-59.4 89.66 772.95)" fill="#000">16</text>
<text x="99.78" y="759.17" font-size="8.6" text-anchor="middle" dominant-baseline="central" transform="rotate(-48.0 99.78 759.17)" fill="#000">17</text>
<text x="111.40" y="747.80" font-size="8.6" text-anchor="middle" dominant-baseline="central" transform="rotate(-37.2 111.40 747.80)" fill="#000">18</text>
<text x="124.22" y="743.69" font-size="8.6" text-anchor="middle" dominant-baseline="central" transform="rotate(-28.4 124.22 743.69)" fill="#000">19</text>
<text x="132.53" y="733.77" font-size="8.6" text-anchor="middle" dominant-baseline="central" transform="rotate(-20.6 132.53 733.77)" fill="#000">20</text>
<text x="146.40" y="735.32" font-size="8.6" text-anchor="middle" dominant-baseline="central" transform="rotate(-12.0 146.40 735.32)" fill="#000">21</text>
<text x="158.27" y="730.37" font-size="8.6" text-anchor="middle" dominant-baseline="central" transform="rotate(-3.6 158.27 730.37)" fill="#000">22</text>
<text x="163.70" y="818.90" font-size="11.4" text-anchor="middle" fill="#111" >MEITL65</text>
<g fill="none">
<path d="M364.0 734.0 L364.0 764.0" stroke="#4a8a5a" stroke-width="1.0" opacity="1.0"/>
<path d="M364.8 734.0 L364.3 762.0" stroke="#5aa89a" stroke-width="0.8" opacity="1.0"/>
<path d="M363.4 734.0 L363.8 760.0" stroke="#7ab88a" stroke-width="0.7" opacity="1.0"/>
<path d="M364.2 734.0 Q366.3 796.4 393.2 873.2" stroke="#777" stroke-width="0.6" opacity="1.0"/>
<path d="M364.6 734.0 Q367.4 796.6 394.2 872.8" stroke="#aaa" stroke-width="0.4" opacity="1.0"/>
<path d="M389.8 739.3 Q360.2 803.9 289.8 797.0" stroke="#8c8c8c" stroke-width="0.6" opacity="1.0"/>
<path d="M415.6 754.8 Q339.9 828.0 308.7 855.2" stroke="#8c8c8c" stroke-width="0.6" opacity="1.0"/>
<path d="M394.0 740.8 L378.4 766.8" stroke="#a9c9ea" stroke-width="0.5" opacity="1.0"/>
<path d="M402.5 745.7 L385.6 770.4" stroke="#a9c9ea" stroke-width="0.5" opacity="1.0"/>
<path d="M397.0 742.0 L381.0 768.0" stroke="#a9c9ea" stroke-width="0.4" opacity="1.0"/>
<path d="M294.5 777.6 C330 790 358 830 359.8 881.5" stroke="#8c8c8c" stroke-width="0.6"/>
<path d="M289.5 797.3 C325 798 345 812 303 848.5" stroke="#8c8c8c" stroke-width="0.6"/>
<path d="M302.5 848.7 C330 830 356 830 360.5 881" stroke="#8c8c8c" stroke-width="0.6"/>
<path d="M289.8 805.0 L320.5 806.4" stroke="#a9c9ea" stroke-width="0.5" opacity="1.0"/>
<path d="M300.0 842.5 L326.0 828.7" stroke="#e8958a" stroke-width="0.6" opacity="1.0"/>
<path d="M332.5 872.5 L345.0 845.5" stroke="#a9c9ea" stroke-width="0.5" opacity="1.0"/>
<path d="M368.7 880.0 L367.5 849.5" stroke="#7ab06a" stroke-width="0.6" opacity="1.0"/>
<path d="M370.5 880.0 L368.3 849.5" stroke="#b9805a" stroke-width="0.5" opacity="1.0"/>
<path d="M372.5 879.5 L369.0 849.5" stroke="#8aba7a" stroke-width="0.6" opacity="1.0"/>
<path d="M375.0 878.5 L370.0 850.0" stroke="#a8d09a" stroke-width="0.5" opacity="1.0"/>
<path d="M367.0 880.0 L366.8 850.0" stroke="#a8d09a" stroke-width="0.5" opacity="1.0"/>
<path d="M396.0 872.5 L385.0 847.5" stroke="#a9c9ea" stroke-width="0.5" opacity="1.0"/>
<path d="M363.30 731.10 A75.8 75.8 0 0 1 399.31 740.41" stroke="#cfc88c" stroke-width="1.7"/>
<path d="M366.13 731.17 A75.8 75.8 0 0 1 367.02 731.21 M371.52 731.59 A75.8 75.8 0 0 1 372.12 731.66 M374.26 731.96 A75.8 75.8 0 0 1 374.74 732.03 M376.47 732.32 A75.8 75.8 0 0 1 376.93 732.41 M378.80 732.79 A75.8 75.8 0 0 1 379.65 732.97 M384.47 734.24 A75.8 75.8 0 0 1 385.44 734.53 M388.03 735.39 A75.8 75.8 0 0 1 388.77 735.65 M392.38 737.07 A75.8 75.8 0 0 1 393.05 737.35 M394.50 738.00 A75.8 75.8 0 0 1 395.53 738.48 M398.75 740.11 A75.8 75.8 0 0 1 399.23 740.38" stroke="#3a3418" stroke-width="1.7" opacity="0.6"/>
<path d="M401.66 741.76 A75.8 75.8 0 0 1 426.72 766.01" stroke="#c8c884" stroke-width="1.7"/>
<path d="M403.01 742.58 A75.8 75.8 0 0 1 403.47 742.87 M407.50 745.61 A75.8 75.8 0 0 1 407.94 745.93 M410.82 748.17 A75.8 75.8 0 0 1 411.76 748.95 M412.87 749.90 A75.8 75.8 0 0 1 413.44 750.41 M415.70 752.52 A75.8 75.8 0 0 1 416.55 753.35 M417.96 754.80 A75.8 75.8 0 0 1 418.42 755.29 M419.92 756.95 A75.8 75.8 0 0 1 420.25 757.33 M422.67 760.28 A75.8 75.8 0 0 1 423.35 761.16 M425.08 763.54 A75.8 75.8 0 0 1 425.36 763.95" stroke="#3a3a18" stroke-width="1.7" opacity="0.6"/>
<path d="M428.15 768.32 A75.8 75.8 0 0 1 437.78 795.14" stroke="#cccd8a" stroke-width="1.7"/>
<path d="M429.97 771.58 A75.8 75.8 0 0 1 430.30 772.23 M432.20 776.19 A75.8 75.8 0 0 1 432.59 777.08 M433.89 780.33 A75.8 75.8 0 0 1 434.20 781.17 M434.91 783.24 A75.8 75.8 0 0 1 435.17 784.02 M436.34 788.12 A75.8 75.8 0 0 1 436.58 789.10 M437.15 791.64 A75.8 75.8 0 0 1 437.36 792.73" stroke="#4a4a20" stroke-width="1.7" opacity="0.6"/>
<path d="M438.15 797.82 A75.8 75.8 0 0 1 436.44 825.28" stroke="#d87272" stroke-width="1.7"/>
<path d="M438.36 799.72 A75.8 75.8 0 0 1 438.42 800.36 M438.52 801.73 A75.8 75.8 0 0 1 438.59 802.79 M438.70 806.51 A75.8 75.8 0 0 1 438.70 807.40 M438.50 812.40 A75.8 75.8 0 0 1 438.44 813.15 M438.24 815.20 A75.8 75.8 0 0 1 438.18 815.74 M437.84 818.30 A75.8 75.8 0 0 1 437.66 819.42 M436.99 822.92 A75.8 75.8 0 0 1 436.88 823.42" stroke="#5a1414" stroke-width="1.7" opacity="0.6"/>
<path d="M435.73 827.89 A75.8 75.8 0 0 1 424.31 851.34" stroke="#de8480" stroke-width="1.7"/>
<path d="M434.65 831.36 A75.8 75.8 0 0 1 434.46 831.89 M433.78 833.76 A75.8 75.8 0 0 1 433.43 834.66 M431.70 838.72 A75.8 75.8 0 0 1 431.29 839.59 M430.22 841.75 A75.8 75.8 0 0 1 429.76 842.61 M428.63 844.65 A75.8 75.8 0 0 1 428.40 845.05 M427.19 847.06 A75.8 75.8 0 0 1 426.65 847.91" stroke="#5e1818" stroke-width="1.7" opacity="0.6"/>
<path d="M422.68 853.51 A75.8 75.8 0 0 1 404.56 870.22" stroke="#c064c0" stroke-width="1.7"/>
<path d="M419.85 856.92 A75.8 75.8 0 0 1 419.10 857.76 M417.49 859.48 A75.8 75.8 0 0 1 416.64 860.36 M414.99 861.96 A75.8 75.8 0 0 1 414.62 862.31 M412.22 864.46 A75.8 75.8 0 0 1 411.34 865.20 M408.56 867.40 A75.8 75.8 0 0 1 407.84 867.94 M405.29 869.74 A75.8 75.8 0 0 1 404.71 870.12" stroke="#4a1450" stroke-width="1.7" opacity="0.6"/>
<path d="M402.27 871.67 A75.8 75.8 0 0 1 381.10 880.48" stroke="#ecd6d6" stroke-width="1.7"/>
<path d="M400.17 872.90 A75.8 75.8 0 0 1 399.49 873.28 M396.52 874.84 A75.8 75.8 0 0 1 395.43 875.37 M393.98 876.03 A75.8 75.8 0 0 1 393.38 876.30 M388.91 878.10 A75.8 75.8 0 0 1 387.98 878.43 M386.47 878.94 A75.8 75.8 0 0 1 385.69 879.19" stroke="#7a5a5a" stroke-width="1.7" opacity="0.6"/>
<path d="M378.45 881.09 A75.8 75.8 0 0 1 357.43 882.50" stroke="#eebc68" stroke-width="1.7"/>
<path d="M376.85 881.41 A75.8 75.8 0 0 1 375.69 881.61 M371.55 882.20 A75.8 75.8 0 0 1 370.87 882.28 M367.59 882.56 A75.8 75.8 0 0 1 366.47 882.62 M364.25 882.69 A75.8 75.8 0 0 1 363.23 882.70 M359.83 882.64 A75.8 75.8 0 0 1 359.31 882.61" stroke="#7a4a10" stroke-width="1.7" opacity="0.6"/>
<path d="M354.73 882.26 A75.8 75.8 0 0 1 334.97 877.37" stroke="#f0dc70" stroke-width="1.7"/>
<path d="M352.90 882.04 A75.8 75.8 0 0 1 351.70 881.87 M349.48 881.50 A75.8 75.8 0 0 1 348.84 881.39 M345.39 880.65 A75.8 75.8 0 0 1 344.53 880.44 M342.11 879.79 A75.8 75.8 0 0 1 341.42 879.59 M338.40 878.63 A75.8 75.8 0 0 1 337.29 878.24" stroke="#8a6e10" stroke-width="1.7" opacity="0.6"/>
<path d="M332.46 876.32 A75.8 75.8 0 0 1 315.77 866.26" stroke="#e6e666" stroke-width="1.7"/>
<path d="M328.13 874.26 A75.8 75.8 0 0 1 327.24 873.79 M323.51 871.66 A75.8 75.8 0 0 1 322.86 871.26 M318.79 868.55 A75.8 75.8 0 0 1 317.94 867.93" stroke="#7a7a14" stroke-width="1.7" opacity="0.6"/>
<path d="M313.67 864.54 A75.8 75.8 0 0 1 300.60 850.08" stroke="#d4e064" stroke-width="1.7"/>
<path d="M312.06 863.13 A75.8 75.8 0 0 1 311.32 862.44 M308.43 859.61 A75.8 75.8 0 0 1 308.10 859.27 M306.42 857.46 A75.8 75.8 0 0 1 305.83 856.79 M304.47 855.18 A75.8 75.8 0 0 1 304.11 854.75 M302.86 853.16 A75.8 75.8 0 0 1 302.57 852.79 M301.51 851.36 A75.8 75.8 0 0 1 301.06 850.74" stroke="#5a6a14" stroke-width="1.7" opacity="0.6"/>
<path d="M299.09 847.82 A75.8 75.8 0 0 1 290.81 830.33" stroke="#98cc6a" stroke-width="1.7"/>
<path d="M297.80 845.73 A75.8 75.8 0 0 1 297.51 845.24 M295.25 841.09 A75.8 75.8 0 0 1 294.82 840.22 M293.22 836.73 A75.8 75.8 0 0 1 292.83 835.80 M291.91 833.46 A75.8 75.8 0 0 1 291.58 832.58" stroke="#2e5a18" stroke-width="1.7" opacity="0.6"/>
<path d="M290.02 827.74 A75.8 75.8 0 0 1 287.23 811.36" stroke="#7cac64" stroke-width="1.7"/>
<path d="M288.94 823.52 A75.8 75.8 0 0 1 288.84 823.06 M288.05 818.86 A75.8 75.8 0 0 1 287.96 818.31 M287.77 816.94 A75.8 75.8 0 0 1 287.70 816.42 M287.35 813.04 A75.8 75.8 0 0 1 287.26 811.90" stroke="#24481a" stroke-width="1.7" opacity="0.6"/>
<path d="M287.12 808.65 A75.8 75.8 0 0 1 288.34 793.23" stroke="#6060bc" stroke-width="1.7"/>
<path d="M287.16 803.90 A75.8 75.8 0 0 1 287.19 803.31 M287.38 800.40 A75.8 75.8 0 0 1 287.49 799.20 M288.10 794.63 A75.8 75.8 0 0 1 288.29 793.52" stroke="#18185a" stroke-width="1.7" opacity="0.6"/>
<path d="M288.88 790.57 A75.8 75.8 0 0 1 293.44 776.55" stroke="#a2b8ec" stroke-width="1.7"/>
<path d="M289.40 788.39 A75.8 75.8 0 0 1 289.57 787.73 M290.06 785.92 A75.8 75.8 0 0 1 290.25 785.27 M291.11 782.58 A75.8 75.8 0 0 1 291.46 781.55 M292.81 778.03 A75.8 75.8 0 0 1 293.04 777.48" stroke="#3e56a0" stroke-width="1.7" opacity="0.6"/>
<path d="M294.57 774.08 A75.8 75.8 0 0 1 301.20 762.87" stroke="#b8d0f4" stroke-width="1.7"/>
<path d="M296.70 769.98 A75.8 75.8 0 0 1 297.11 769.25 M299.32 765.62 A75.8 75.8 0 0 1 299.88 764.78" stroke="#4a6cb0" stroke-width="1.7" opacity="0.6"/>
<path d="M302.81 760.70 A75.8 75.8 0 0 1 310.65 751.99" stroke="#86cccc" stroke-width="1.7"/>
<path d="M304.51 758.57 A75.8 75.8 0 0 1 305.04 757.93 M307.90 754.74 A75.8 75.8 0 0 1 308.38 754.24 M309.81 752.79 A75.8 75.8 0 0 1 310.62 752.01" stroke="#2a6a6a" stroke-width="1.7" opacity="0.6"/>
<path d="M312.65 750.15 A75.8 75.8 0 0 1 321.63 743.32" stroke="#def2f2" stroke-width="1.7"/>
<path d="M315.01 748.14 A75.8 75.8 0 0 1 315.77 747.53 M317.33 746.33 A75.8 75.8 0 0 1 317.72 746.03 M319.47 744.77 A75.8 75.8 0 0 1 320.13 744.32" stroke="#5a9a9a" stroke-width="1.7" opacity="0.6"/>
<path d="M323.93 741.89 A75.8 75.8 0 0 1 331.49 737.91" stroke="#b472ce" stroke-width="1.7"/>
<path d="M328.14 739.54 A75.8 75.8 0 0 1 328.86 739.17 M330.06 738.58 A75.8 75.8 0 0 1 331.05 738.11" stroke="#4a1e66" stroke-width="1.7" opacity="0.6"/>
<path d="M333.98 736.84 A75.8 75.8 0 0 1 342.60 733.87" stroke="#c082da" stroke-width="1.7"/>
<path d="M336.25 735.94 A75.8 75.8 0 0 1 336.81 735.73 M340.30 734.55 A75.8 75.8 0 0 1 341.25 734.26" stroke="#54286e" stroke-width="1.7" opacity="0.6"/>
<path d="M345.22 733.19 A75.8 75.8 0 0 1 352.05 731.88" stroke="#d0b8ec" stroke-width="1.7"/>
<path d="M349.69 732.26 A75.8 75.8 0 0 1 350.41 732.14" stroke="#6e4ea0" stroke-width="1.7" opacity="0.6"/>
<path d="M354.74 731.54 A75.8 75.8 0 0 1 362.11 731.10" stroke="#a0a0a0" stroke-width="1.7"/>
<path d="M358.24 731.24 A75.8 75.8 0 0 1 358.93 731.20" stroke="#333" stroke-width="1.7" opacity="0.6"/>
</g>
<text x="384.44" y="723.64" font-size="8.6" text-anchor="middle" dominant-baseline="central" transform="rotate(14.5 384.44 723.64)" fill="#000" font-style="italic">1</text>
<text x="422.70" y="745.09" font-size="8.6" text-anchor="middle" dominant-baseline="central" transform="rotate(44.1 422.70 745.09)" fill="#000">2</text>
<text x="443.83" y="777.82" font-size="8.6" text-anchor="middle" dominant-baseline="central" transform="rotate(70.2 443.83 777.82)" fill="#000">3</text>
<text x="447.17" y="811.58" font-size="8.6" text-anchor="middle" dominant-baseline="central" transform="rotate(-86.8 447.17 811.58)" fill="#000">4</text>
<text x="439.02" y="843.35" font-size="8.6" text-anchor="middle" dominant-baseline="central" transform="rotate(-64.4 439.02 843.35)" fill="#000">5</text>
<text x="420.57" y="868.52" font-size="8.6" text-anchor="middle" dominant-baseline="central" transform="rotate(-43.1 420.57 868.52)" fill="#000">6</text>
<text x="395.87" y="884.60" font-size="8.6" text-anchor="middle" dominant-baseline="central" transform="rotate(-23.0 395.87 884.60)" fill="#000">7</text>
<text x="370.77" y="890.93" font-size="8.6" text-anchor="middle" dominant-baseline="central" transform="rotate(-5.3 370.77 890.93)" fill="#000">8</text>
<text x="341.19" y="888.46" font-size="8.6" text-anchor="middle" dominant-baseline="central" transform="rotate(14.9 341.19 888.46)" fill="#000">9</text>
<text x="318.10" y="878.43" font-size="8.6" text-anchor="middle" dominant-baseline="central" transform="rotate(32.1 318.10 878.43)" fill="#000">10</text>
<text x="299.31" y="862.40" font-size="8.6" text-anchor="middle" dominant-baseline="central" transform="rotate(48.9 299.31 862.40)" fill="#000">11</text>
<text x="286.00" y="841.69" font-size="8.6" text-anchor="middle" dominant-baseline="central" transform="rotate(65.7 286.00 841.69)" fill="#000">12</text>
<text x="279.46" y="819.61" font-size="8.6" text-anchor="middle" dominant-baseline="central" transform="rotate(81.3 279.46 819.61)" fill="#000">13</text>
<text x="277.17" y="800.10" font-size="8.6" text-anchor="middle" dominant-baseline="central" transform="rotate(-85.5 277.17 800.10)" fill="#000">14</text>
<text x="281.12" y="780.29" font-size="8.6" text-anchor="middle" dominant-baseline="central" transform="rotate(-72.0 281.12 780.29)" fill="#000">15</text>
<text x="288.86" y="763.15" font-size="8.6" text-anchor="middle" dominant-baseline="central" transform="rotate(-59.4 288.86 763.15)" fill="#000">16</text>
<text x="298.98" y="749.37" font-size="8.6" text-anchor="middle" dominant-baseline="central" transform="rotate(-48.0 298.98 749.37)" fill="#000">17</text>
<text x="310.60" y="738.00" font-size="8.6" text-anchor="middle" dominant-baseline="central" transform="rotate(-37.2 310.60 738.00)" fill="#000">18</text>
<text x="323.42" y="733.89" font-size="8.6" text-anchor="middle" dominant-baseline="central" transform="rotate(-28.4 323.42 733.89)" fill="#000">19</text>
<text x="331.73" y="723.97" font-size="8.6" text-anchor="middle" dominant-baseline="central" transform="rotate(-20.6 331.73 723.97)" fill="#000">20</text>
<text x="345.60" y="725.52" font-size="8.6" text-anchor="middle" dominant-baseline="central" transform="rotate(-12.0 345.60 725.52)" fill="#000">21</text>
<text x="357.47" y="720.57" font-size="8.6" text-anchor="middle" dominant-baseline="central" transform="rotate(-3.6 357.47 720.57)" fill="#000">22</text>
<text x="362.90" y="809.30" font-size="11.4" text-anchor="middle" fill="#111" >MEITL66</text>
<text x="305.00" y="903.60" font-size="8.5" text-anchor="start" font-style="italic" fill="#0d0d0d" >C-Myc</text>
<line x1="333.2" y1="901.6" x2="351" y2="889.6" stroke="#000" stroke-width="1.9"/>
<path d="M357.4 885.4 L347.6 886.8 L352.6 894.4 Z" fill="#000"/>
<rect x="0.75" y="0.75" width="518.5" height="913.5" fill="none" stroke="#000" stroke-width="1.5"/>
</svg>
</body></html>
